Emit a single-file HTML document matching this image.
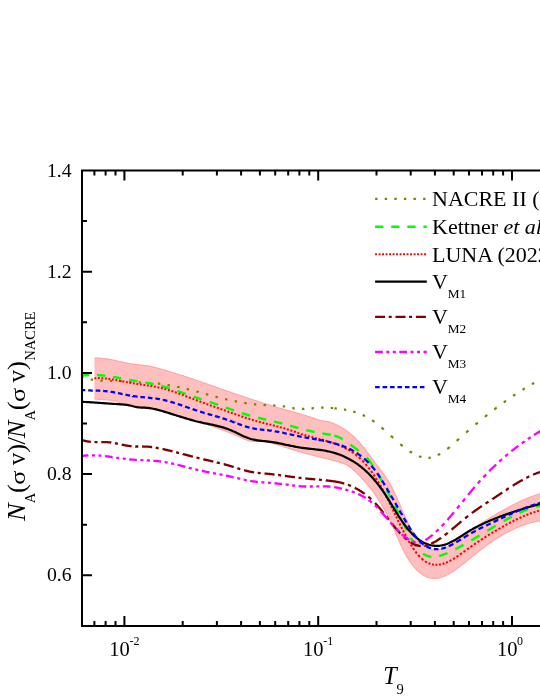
<!DOCTYPE html>
<html><head><meta charset="utf-8"><title>chart</title>
<style>html,body{margin:0;padding:0;background:#fff;}body{width:540px;height:699px;overflow:hidden;}svg{display:block;will-change:transform;}text{font-family:"Liberation Serif",serif;fill:#000;}</style></head><body>
<svg width="540" height="699" viewBox="0 0 540 699">
<rect x="0" y="0" width="540" height="699" fill="#fff"/>
<path d="M94.4,358.3 L95.4,358.2 L96.4,358.2 L97.4,358.2 L98.4,358.2 L99.4,358.2 L100.4,358.3 L101.4,358.3 L102.4,358.4 L103.4,358.5 L104.4,358.6 L105.4,358.8 L106.4,358.9 L107.4,359.1 L108.4,359.2 L109.4,359.4 L110.4,359.6 L111.4,359.8 L112.4,360.0 L113.4,360.2 L114.4,360.4 L115.4,360.6 L116.4,360.8 L117.4,361.1 L118.4,361.3 L119.4,361.5 L120.4,361.7 L121.4,361.9 L122.4,362.2 L123.4,362.4 L124.4,362.6 L125.4,362.8 L126.4,363.0 L127.4,363.2 L128.4,363.4 L129.4,363.5 L130.4,363.7 L131.4,363.9 L132.4,364.0 L133.4,364.1 L134.4,364.3 L135.4,364.4 L136.4,364.5 L137.4,364.6 L138.4,364.7 L139.4,364.9 L140.4,365.0 L141.4,365.1 L142.4,365.2 L143.4,365.3 L144.4,365.5 L145.4,365.6 L146.4,365.7 L147.4,365.9 L148.4,366.1 L149.4,366.3 L150.4,366.4 L151.4,366.6 L152.4,366.9 L153.4,367.1 L154.4,367.3 L155.4,367.6 L156.4,367.8 L157.4,368.1 L158.4,368.4 L159.4,368.7 L160.4,368.9 L161.4,369.2 L162.4,369.5 L163.4,369.8 L164.4,370.1 L165.4,370.4 L166.4,370.7 L167.4,370.9 L168.4,371.2 L169.4,371.5 L170.4,371.8 L171.4,372.2 L172.4,372.5 L173.4,372.8 L174.4,373.1 L175.4,373.4 L176.4,373.7 L177.4,374.0 L178.4,374.3 L179.4,374.7 L180.4,375.0 L181.4,375.3 L182.4,375.6 L183.4,375.9 L184.4,376.3 L185.4,376.6 L186.4,376.9 L187.4,377.3 L188.4,377.6 L189.4,377.9 L190.4,378.3 L191.4,378.6 L192.4,378.9 L193.4,379.3 L194.4,379.6 L195.4,380.0 L196.4,380.3 L197.4,380.6 L198.4,381.0 L199.4,381.3 L200.4,381.7 L201.4,382.0 L202.4,382.4 L203.4,382.7 L204.4,383.1 L205.4,383.4 L206.4,383.8 L207.4,384.1 L208.4,384.5 L209.4,384.8 L210.4,385.2 L211.4,385.5 L212.4,385.9 L213.4,386.2 L214.4,386.6 L215.4,386.9 L216.4,387.3 L217.4,387.6 L218.4,388.0 L219.4,388.3 L220.4,388.7 L221.4,389.0 L222.4,389.4 L223.4,389.7 L224.4,390.1 L225.4,390.4 L226.4,390.8 L227.4,391.1 L228.4,391.5 L229.4,391.8 L230.4,392.2 L231.4,392.5 L232.4,392.9 L233.4,393.2 L234.4,393.6 L235.4,393.9 L236.4,394.2 L237.4,394.6 L238.4,394.9 L239.4,395.3 L240.4,395.6 L241.4,395.9 L242.4,396.3 L243.4,396.6 L244.4,397.0 L245.4,397.3 L246.4,397.6 L247.4,398.0 L248.4,398.3 L249.4,398.6 L250.4,399.0 L251.4,399.3 L252.4,399.6 L253.4,399.9 L254.4,400.3 L255.4,400.6 L256.4,400.9 L257.4,401.2 L258.4,401.6 L259.4,401.9 L260.4,402.2 L261.4,402.5 L262.4,402.8 L263.4,403.2 L264.4,403.5 L265.4,403.8 L266.4,404.1 L267.4,404.4 L268.4,404.7 L269.4,405.0 L270.4,405.3 L271.4,405.6 L272.4,406.0 L273.4,406.3 L274.4,406.6 L275.4,406.9 L276.4,407.2 L277.4,407.5 L278.4,407.8 L279.4,408.0 L280.4,408.3 L281.4,408.6 L282.4,408.9 L283.4,409.2 L284.4,409.5 L285.4,409.8 L286.4,410.1 L287.4,410.4 L288.4,410.6 L289.4,410.9 L290.4,411.2 L291.4,411.5 L292.4,411.8 L293.4,412.1 L294.4,412.3 L295.4,412.6 L296.4,412.9 L297.4,413.2 L298.4,413.5 L299.4,413.8 L300.4,414.1 L301.4,414.4 L302.4,414.7 L303.4,415.0 L304.4,415.3 L305.4,415.6 L306.4,415.9 L307.4,416.2 L308.4,416.5 L309.4,416.8 L310.4,417.1 L311.4,417.5 L312.4,417.8 L313.4,418.1 L314.4,418.5 L315.4,418.8 L316.4,419.2 L317.4,419.5 L318.4,419.8 L319.4,420.1 L320.4,420.3 L321.4,420.6 L322.4,420.8 L323.4,421.0 L324.4,421.1 L325.4,421.3 L326.4,421.5 L327.4,421.7 L328.4,421.9 L329.4,422.1 L330.4,422.4 L331.4,422.7 L332.4,423.0 L333.4,423.4 L334.4,423.8 L335.4,424.3 L336.4,424.7 L337.4,425.2 L338.4,425.8 L339.4,426.3 L340.4,426.9 L341.4,427.5 L342.4,428.1 L343.4,428.7 L344.4,429.3 L345.4,430.0 L346.4,430.7 L347.4,431.4 L348.4,432.2 L349.4,432.9 L350.4,433.8 L351.4,434.6 L352.4,435.5 L353.4,436.4 L354.4,437.3 L355.4,438.3 L356.4,439.3 L357.4,440.3 L358.4,441.4 L359.4,442.5 L360.4,443.6 L361.4,444.8 L362.4,445.9 L363.4,447.2 L364.4,448.4 L365.4,449.7 L366.4,451.0 L367.4,452.3 L368.4,453.6 L369.4,455.0 L370.4,456.3 L371.4,457.7 L372.4,459.1 L373.4,460.4 L374.4,461.8 L375.4,463.2 L376.4,464.5 L377.4,465.9 L378.4,467.2 L379.4,468.6 L380.4,469.9 L381.4,471.2 L382.4,472.5 L383.4,473.9 L384.4,475.2 L385.4,476.6 L386.4,478.0 L387.4,479.5 L388.4,481.1 L389.4,482.7 L390.4,484.5 L391.4,486.4 L392.4,488.3 L393.4,490.4 L394.4,492.5 L395.4,494.7 L396.4,496.9 L397.4,499.2 L398.4,501.5 L399.4,503.8 L400.4,506.1 L401.4,508.4 L402.4,510.7 L403.4,513.0 L404.4,515.2 L405.4,517.4 L406.4,519.6 L407.4,521.6 L408.4,523.7 L409.4,525.6 L410.4,527.5 L411.4,529.3 L412.4,531.1 L413.4,532.8 L414.4,534.4 L415.4,535.9 L416.4,537.4 L417.4,538.8 L418.4,540.1 L419.4,541.2 L420.4,542.4 L421.4,543.4 L422.4,544.3 L423.4,545.2 L424.4,546.0 L425.4,546.7 L426.4,547.3 L427.4,547.9 L428.4,548.4 L429.4,548.8 L430.4,549.2 L431.4,549.5 L432.4,549.7 L433.4,549.8 L434.4,549.9 L435.4,550.0 L436.4,550.0 L437.4,549.9 L438.4,549.8 L439.4,549.6 L440.4,549.4 L441.4,549.2 L442.4,548.8 L443.4,548.5 L444.4,548.1 L445.4,547.7 L446.4,547.2 L447.4,546.7 L448.4,546.2 L449.4,545.6 L450.4,545.0 L451.4,544.4 L452.4,543.8 L453.4,543.1 L454.4,542.4 L455.4,541.7 L456.4,541.0 L457.4,540.3 L458.4,539.6 L459.4,538.8 L460.4,538.1 L461.4,537.3 L462.4,536.5 L463.4,535.8 L464.4,535.0 L465.4,534.3 L466.4,533.5 L467.4,532.8 L468.4,532.0 L469.4,531.3 L470.4,530.6 L471.4,529.9 L472.4,529.2 L473.4,528.5 L474.4,527.8 L475.4,527.1 L476.4,526.5 L477.4,525.8 L478.4,525.1 L479.4,524.5 L480.4,523.9 L481.4,523.2 L482.4,522.6 L483.4,522.0 L484.4,521.3 L485.4,520.7 L486.4,520.1 L487.4,519.5 L488.4,518.9 L489.4,518.3 L490.4,517.7 L491.4,517.1 L492.4,516.5 L493.4,515.9 L494.4,515.3 L495.4,514.7 L496.4,514.1 L497.4,513.5 L498.4,512.9 L499.4,512.4 L500.4,511.8 L501.4,511.2 L502.4,510.7 L503.4,510.1 L504.4,509.5 L505.4,509.0 L506.4,508.4 L507.4,507.9 L508.4,507.3 L509.4,506.8 L510.4,506.3 L511.4,505.7 L512.4,505.2 L513.4,504.7 L514.4,504.2 L515.4,503.7 L516.4,503.2 L517.4,502.7 L518.4,502.2 L519.4,501.7 L520.4,501.3 L521.4,500.8 L522.4,500.3 L523.4,499.9 L524.4,499.5 L525.4,499.0 L526.4,498.6 L527.4,498.2 L528.4,497.8 L529.4,497.4 L530.4,497.0 L531.4,496.6 L532.4,496.2 L533.4,495.9 L534.4,495.5 L535.4,495.2 L536.4,494.8 L537.4,494.5 L538.4,494.2 L539.4,493.9 L540.4,493.6 L541.0,493.5 L541.0,520.7 L540.4,520.8 L539.4,521.0 L538.4,521.1 L537.4,521.3 L536.4,521.5 L535.4,521.7 L534.4,521.9 L533.4,522.1 L532.4,522.4 L531.4,522.6 L530.4,522.9 L529.4,523.2 L528.4,523.5 L527.4,523.8 L526.4,524.1 L525.4,524.4 L524.4,524.7 L523.4,525.1 L522.4,525.5 L521.4,525.8 L520.4,526.2 L519.4,526.6 L518.4,527.0 L517.4,527.4 L516.4,527.9 L515.4,528.3 L514.4,528.7 L513.4,529.2 L512.4,529.7 L511.4,530.2 L510.4,530.7 L509.4,531.2 L508.4,531.7 L507.4,532.2 L506.4,532.7 L505.4,533.3 L504.4,533.8 L503.4,534.4 L502.4,535.0 L501.4,535.6 L500.4,536.2 L499.4,536.8 L498.4,537.4 L497.4,538.0 L496.4,538.6 L495.4,539.3 L494.4,539.9 L493.4,540.6 L492.4,541.3 L491.4,542.0 L490.4,542.6 L489.4,543.3 L488.4,544.1 L487.4,544.8 L486.4,545.5 L485.4,546.2 L484.4,547.0 L483.4,547.7 L482.4,548.5 L481.4,549.3 L480.4,550.0 L479.4,550.8 L478.4,551.6 L477.4,552.4 L476.4,553.2 L475.4,554.0 L474.4,554.8 L473.4,555.7 L472.4,556.5 L471.4,557.3 L470.4,558.1 L469.4,558.9 L468.4,559.8 L467.4,560.6 L466.4,561.4 L465.4,562.2 L464.4,563.0 L463.4,563.8 L462.4,564.6 L461.4,565.3 L460.4,566.1 L459.4,566.9 L458.4,567.6 L457.4,568.3 L456.4,569.1 L455.4,569.8 L454.4,570.5 L453.4,571.1 L452.4,571.8 L451.4,572.4 L450.4,573.0 L449.4,573.6 L448.4,574.2 L447.4,574.7 L446.4,575.2 L445.4,575.7 L444.4,576.2 L443.4,576.6 L442.4,576.9 L441.4,577.3 L440.4,577.6 L439.4,577.8 L438.4,578.1 L437.4,578.2 L436.4,578.4 L435.4,578.4 L434.4,578.5 L433.4,578.4 L432.4,578.4 L431.4,578.2 L430.4,578.0 L429.4,577.8 L428.4,577.5 L427.4,577.2 L426.4,576.7 L425.4,576.3 L424.4,575.8 L423.4,575.2 L422.4,574.5 L421.4,573.8 L420.4,573.1 L419.4,572.3 L418.4,571.4 L417.4,570.5 L416.4,569.5 L415.4,568.4 L414.4,567.3 L413.4,566.1 L412.4,564.8 L411.4,563.5 L410.4,562.2 L409.4,560.7 L408.4,559.2 L407.4,557.6 L406.4,555.9 L405.4,554.1 L404.4,552.2 L403.4,550.3 L402.4,548.2 L401.4,546.1 L400.4,543.9 L399.4,541.6 L398.4,539.3 L397.4,537.0 L396.4,534.7 L395.4,532.3 L394.4,530.0 L393.4,527.7 L392.4,525.5 L391.4,523.3 L390.4,521.2 L389.4,519.1 L388.4,517.0 L387.4,515.1 L386.4,513.1 L385.4,511.3 L384.4,509.4 L383.4,507.6 L382.4,505.9 L381.4,504.2 L380.4,502.5 L379.4,500.9 L378.4,499.4 L377.4,497.8 L376.4,496.3 L375.4,494.9 L374.4,493.5 L373.4,492.1 L372.4,490.7 L371.4,489.4 L370.4,488.1 L369.4,486.9 L368.4,485.7 L367.4,484.5 L366.4,483.3 L365.4,482.1 L364.4,481.0 L363.4,479.9 L362.4,478.8 L361.4,477.7 L360.4,476.7 L359.4,475.6 L358.4,474.6 L357.4,473.6 L356.4,472.6 L355.4,471.6 L354.4,470.7 L353.4,469.8 L352.4,468.9 L351.4,468.1 L350.4,467.3 L349.4,466.6 L348.4,465.9 L347.4,465.3 L346.4,464.8 L345.4,464.3 L344.4,463.8 L343.4,463.4 L342.4,463.1 L341.4,462.7 L340.4,462.4 L339.4,462.1 L338.4,461.8 L337.4,461.5 L336.4,461.2 L335.4,461.0 L334.4,460.7 L333.4,460.4 L332.4,460.1 L331.4,459.9 L330.4,459.6 L329.4,459.3 L328.4,459.1 L327.4,458.8 L326.4,458.6 L325.4,458.3 L324.4,458.1 L323.4,457.8 L322.4,457.6 L321.4,457.3 L320.4,457.1 L319.4,456.8 L318.4,456.6 L317.4,456.3 L316.4,456.1 L315.4,455.8 L314.4,455.6 L313.4,455.3 L312.4,455.1 L311.4,454.9 L310.4,454.6 L309.4,454.3 L308.4,454.1 L307.4,453.8 L306.4,453.6 L305.4,453.3 L304.4,453.1 L303.4,452.8 L302.4,452.5 L301.4,452.2 L300.4,452.0 L299.4,451.7 L298.4,451.4 L297.4,451.1 L296.4,450.8 L295.4,450.5 L294.4,450.2 L293.4,449.9 L292.4,449.6 L291.4,449.3 L290.4,449.0 L289.4,448.6 L288.4,448.3 L287.4,448.0 L286.4,447.6 L285.4,447.3 L284.4,447.0 L283.4,446.6 L282.4,446.3 L281.4,446.0 L280.4,445.6 L279.4,445.3 L278.4,445.0 L277.4,444.7 L276.4,444.4 L275.4,444.1 L274.4,443.8 L273.4,443.5 L272.4,443.2 L271.4,443.0 L270.4,442.7 L269.4,442.5 L268.4,442.2 L267.4,442.0 L266.4,441.9 L265.4,441.7 L264.4,441.6 L263.4,441.5 L262.4,441.4 L261.4,441.3 L260.4,441.3 L259.4,441.3 L258.4,441.3 L257.4,441.4 L256.4,441.4 L255.4,441.4 L254.4,441.4 L253.4,441.4 L252.4,441.3 L251.4,441.2 L250.4,441.0 L249.4,440.8 L248.4,440.6 L247.4,440.3 L246.4,439.9 L245.4,439.5 L244.4,439.1 L243.4,438.6 L242.4,438.2 L241.4,437.7 L240.4,437.3 L239.4,436.8 L238.4,436.4 L237.4,435.9 L236.4,435.5 L235.4,435.1 L234.4,434.6 L233.4,434.2 L232.4,433.8 L231.4,433.4 L230.4,433.0 L229.4,432.6 L228.4,432.2 L227.4,431.8 L226.4,431.4 L225.4,431.0 L224.4,430.7 L223.4,430.3 L222.4,429.9 L221.4,429.5 L220.4,429.1 L219.4,428.8 L218.4,428.4 L217.4,428.0 L216.4,427.7 L215.4,427.3 L214.4,426.9 L213.4,426.6 L212.4,426.2 L211.4,425.8 L210.4,425.5 L209.4,425.1 L208.4,424.8 L207.4,424.4 L206.4,424.1 L205.4,423.8 L204.4,423.4 L203.4,423.1 L202.4,422.7 L201.4,422.4 L200.4,422.1 L199.4,421.7 L198.4,421.4 L197.4,421.1 L196.4,420.8 L195.4,420.4 L194.4,420.1 L193.4,419.8 L192.4,419.5 L191.4,419.1 L190.4,418.8 L189.4,418.5 L188.4,418.2 L187.4,417.9 L186.4,417.6 L185.4,417.3 L184.4,417.0 L183.4,416.7 L182.4,416.4 L181.4,416.1 L180.4,415.8 L179.4,415.5 L178.4,415.2 L177.4,414.9 L176.4,414.6 L175.4,414.3 L174.4,414.0 L173.4,413.7 L172.4,413.4 L171.4,413.1 L170.4,412.9 L169.4,412.6 L168.4,412.3 L167.4,412.0 L166.4,411.7 L165.4,411.5 L164.4,411.2 L163.4,410.9 L162.4,410.6 L161.4,410.3 L160.4,410.1 L159.4,409.8 L158.4,409.5 L157.4,409.3 L156.4,409.0 L155.4,408.8 L154.4,408.5 L153.4,408.3 L152.4,408.1 L151.4,407.8 L150.4,407.7 L149.4,407.5 L148.4,407.3 L147.4,407.2 L146.4,407.0 L145.4,406.9 L144.4,406.8 L143.4,406.7 L142.4,406.6 L141.4,406.5 L140.4,406.4 L139.4,406.3 L138.4,406.2 L137.4,406.1 L136.4,406.0 L135.4,405.9 L134.4,405.8 L133.4,405.7 L132.4,405.5 L131.4,405.4 L130.4,405.2 L129.4,405.0 L128.4,404.8 L127.4,404.5 L126.4,404.3 L125.4,404.0 L124.4,403.7 L123.4,403.5 L122.4,403.2 L121.4,402.9 L120.4,402.6 L119.4,402.3 L118.4,402.0 L117.4,401.8 L116.4,401.5 L115.4,401.2 L114.4,401.0 L113.4,400.8 L112.4,400.6 L111.4,400.4 L110.4,400.2 L109.4,400.1 L108.4,399.9 L107.4,399.8 L106.4,399.8 L105.4,399.7 L104.4,399.6 L103.4,399.6 L102.4,399.5 L101.4,399.5 L100.4,399.4 L99.4,399.4 L98.4,399.3 L97.4,399.2 L96.4,399.1 L95.4,399.0 L94.4,398.9 Z" fill="#ffbfbf" stroke="none"/>
<path d="M94.4,358.3 L95.4,358.2 L96.4,358.2 L97.4,358.2 L98.4,358.2 L99.4,358.2 L100.4,358.3 L101.4,358.3 L102.4,358.4 L103.4,358.5 L104.4,358.6 L105.4,358.8 L106.4,358.9 L107.4,359.1 L108.4,359.2 L109.4,359.4 L110.4,359.6 L111.4,359.8 L112.4,360.0 L113.4,360.2 L114.4,360.4 L115.4,360.6 L116.4,360.8 L117.4,361.1 L118.4,361.3 L119.4,361.5 L120.4,361.7 L121.4,361.9 L122.4,362.2 L123.4,362.4 L124.4,362.6 L125.4,362.8 L126.4,363.0 L127.4,363.2 L128.4,363.4 L129.4,363.5 L130.4,363.7 L131.4,363.9 L132.4,364.0 L133.4,364.1 L134.4,364.3 L135.4,364.4 L136.4,364.5 L137.4,364.6 L138.4,364.7 L139.4,364.9 L140.4,365.0 L141.4,365.1 L142.4,365.2 L143.4,365.3 L144.4,365.5 L145.4,365.6 L146.4,365.7 L147.4,365.9 L148.4,366.1 L149.4,366.3 L150.4,366.4 L151.4,366.6 L152.4,366.9 L153.4,367.1 L154.4,367.3 L155.4,367.6 L156.4,367.8 L157.4,368.1 L158.4,368.4 L159.4,368.7 L160.4,368.9 L161.4,369.2 L162.4,369.5 L163.4,369.8 L164.4,370.1 L165.4,370.4 L166.4,370.7 L167.4,370.9 L168.4,371.2 L169.4,371.5 L170.4,371.8 L171.4,372.2 L172.4,372.5 L173.4,372.8 L174.4,373.1 L175.4,373.4 L176.4,373.7 L177.4,374.0 L178.4,374.3 L179.4,374.7 L180.4,375.0 L181.4,375.3 L182.4,375.6 L183.4,375.9 L184.4,376.3 L185.4,376.6 L186.4,376.9 L187.4,377.3 L188.4,377.6 L189.4,377.9 L190.4,378.3 L191.4,378.6 L192.4,378.9 L193.4,379.3 L194.4,379.6 L195.4,380.0 L196.4,380.3 L197.4,380.6 L198.4,381.0 L199.4,381.3 L200.4,381.7 L201.4,382.0 L202.4,382.4 L203.4,382.7 L204.4,383.1 L205.4,383.4 L206.4,383.8 L207.4,384.1 L208.4,384.5 L209.4,384.8 L210.4,385.2 L211.4,385.5 L212.4,385.9 L213.4,386.2 L214.4,386.6 L215.4,386.9 L216.4,387.3 L217.4,387.6 L218.4,388.0 L219.4,388.3 L220.4,388.7 L221.4,389.0 L222.4,389.4 L223.4,389.7 L224.4,390.1 L225.4,390.4 L226.4,390.8 L227.4,391.1 L228.4,391.5 L229.4,391.8 L230.4,392.2 L231.4,392.5 L232.4,392.9 L233.4,393.2 L234.4,393.6 L235.4,393.9 L236.4,394.2 L237.4,394.6 L238.4,394.9 L239.4,395.3 L240.4,395.6 L241.4,395.9 L242.4,396.3 L243.4,396.6 L244.4,397.0 L245.4,397.3 L246.4,397.6 L247.4,398.0 L248.4,398.3 L249.4,398.6 L250.4,399.0 L251.4,399.3 L252.4,399.6 L253.4,399.9 L254.4,400.3 L255.4,400.6 L256.4,400.9 L257.4,401.2 L258.4,401.6 L259.4,401.9 L260.4,402.2 L261.4,402.5 L262.4,402.8 L263.4,403.2 L264.4,403.5 L265.4,403.8 L266.4,404.1 L267.4,404.4 L268.4,404.7 L269.4,405.0 L270.4,405.3 L271.4,405.6 L272.4,406.0 L273.4,406.3 L274.4,406.6 L275.4,406.9 L276.4,407.2 L277.4,407.5 L278.4,407.8 L279.4,408.0 L280.4,408.3 L281.4,408.6 L282.4,408.9 L283.4,409.2 L284.4,409.5 L285.4,409.8 L286.4,410.1 L287.4,410.4 L288.4,410.6 L289.4,410.9 L290.4,411.2 L291.4,411.5 L292.4,411.8 L293.4,412.1 L294.4,412.3 L295.4,412.6 L296.4,412.9 L297.4,413.2 L298.4,413.5 L299.4,413.8 L300.4,414.1 L301.4,414.4 L302.4,414.7 L303.4,415.0 L304.4,415.3 L305.4,415.6 L306.4,415.9 L307.4,416.2 L308.4,416.5 L309.4,416.8 L310.4,417.1 L311.4,417.5 L312.4,417.8 L313.4,418.1 L314.4,418.5 L315.4,418.8 L316.4,419.2 L317.4,419.5 L318.4,419.8 L319.4,420.1 L320.4,420.3 L321.4,420.6 L322.4,420.8 L323.4,421.0 L324.4,421.1 L325.4,421.3 L326.4,421.5 L327.4,421.7 L328.4,421.9 L329.4,422.1 L330.4,422.4 L331.4,422.7 L332.4,423.0 L333.4,423.4 L334.4,423.8 L335.4,424.3 L336.4,424.7 L337.4,425.2 L338.4,425.8 L339.4,426.3 L340.4,426.9 L341.4,427.5 L342.4,428.1 L343.4,428.7 L344.4,429.3 L345.4,430.0 L346.4,430.7 L347.4,431.4 L348.4,432.2 L349.4,432.9 L350.4,433.8 L351.4,434.6 L352.4,435.5 L353.4,436.4 L354.4,437.3 L355.4,438.3 L356.4,439.3 L357.4,440.3 L358.4,441.4 L359.4,442.5 L360.4,443.6 L361.4,444.8 L362.4,445.9 L363.4,447.2 L364.4,448.4 L365.4,449.7 L366.4,451.0 L367.4,452.3 L368.4,453.6 L369.4,455.0 L370.4,456.3 L371.4,457.7 L372.4,459.1 L373.4,460.4 L374.4,461.8 L375.4,463.2 L376.4,464.5 L377.4,465.9 L378.4,467.2 L379.4,468.6 L380.4,469.9 L381.4,471.2 L382.4,472.5 L383.4,473.9 L384.4,475.2 L385.4,476.6 L386.4,478.0 L387.4,479.5 L388.4,481.1 L389.4,482.7 L390.4,484.5 L391.4,486.4 L392.4,488.3 L393.4,490.4 L394.4,492.5 L395.4,494.7 L396.4,496.9 L397.4,499.2 L398.4,501.5 L399.4,503.8 L400.4,506.1 L401.4,508.4 L402.4,510.7 L403.4,513.0 L404.4,515.2 L405.4,517.4 L406.4,519.6 L407.4,521.6 L408.4,523.7 L409.4,525.6 L410.4,527.5 L411.4,529.3 L412.4,531.1 L413.4,532.8 L414.4,534.4 L415.4,535.9 L416.4,537.4 L417.4,538.8 L418.4,540.1 L419.4,541.2 L420.4,542.4 L421.4,543.4 L422.4,544.3 L423.4,545.2 L424.4,546.0 L425.4,546.7 L426.4,547.3 L427.4,547.9 L428.4,548.4 L429.4,548.8 L430.4,549.2 L431.4,549.5 L432.4,549.7 L433.4,549.8 L434.4,549.9 L435.4,550.0 L436.4,550.0 L437.4,549.9 L438.4,549.8 L439.4,549.6 L440.4,549.4 L441.4,549.2 L442.4,548.8 L443.4,548.5 L444.4,548.1 L445.4,547.7 L446.4,547.2 L447.4,546.7 L448.4,546.2 L449.4,545.6 L450.4,545.0 L451.4,544.4 L452.4,543.8 L453.4,543.1 L454.4,542.4 L455.4,541.7 L456.4,541.0 L457.4,540.3 L458.4,539.6 L459.4,538.8 L460.4,538.1 L461.4,537.3 L462.4,536.5 L463.4,535.8 L464.4,535.0 L465.4,534.3 L466.4,533.5 L467.4,532.8 L468.4,532.0 L469.4,531.3 L470.4,530.6 L471.4,529.9 L472.4,529.2 L473.4,528.5 L474.4,527.8 L475.4,527.1 L476.4,526.5 L477.4,525.8 L478.4,525.1 L479.4,524.5 L480.4,523.9 L481.4,523.2 L482.4,522.6 L483.4,522.0 L484.4,521.3 L485.4,520.7 L486.4,520.1 L487.4,519.5 L488.4,518.9 L489.4,518.3 L490.4,517.7 L491.4,517.1 L492.4,516.5 L493.4,515.9 L494.4,515.3 L495.4,514.7 L496.4,514.1 L497.4,513.5 L498.4,512.9 L499.4,512.4 L500.4,511.8 L501.4,511.2 L502.4,510.7 L503.4,510.1 L504.4,509.5 L505.4,509.0 L506.4,508.4 L507.4,507.9 L508.4,507.3 L509.4,506.8 L510.4,506.3 L511.4,505.7 L512.4,505.2 L513.4,504.7 L514.4,504.2 L515.4,503.7 L516.4,503.2 L517.4,502.7 L518.4,502.2 L519.4,501.7 L520.4,501.3 L521.4,500.8 L522.4,500.3 L523.4,499.9 L524.4,499.5 L525.4,499.0 L526.4,498.6 L527.4,498.2 L528.4,497.8 L529.4,497.4 L530.4,497.0 L531.4,496.6 L532.4,496.2 L533.4,495.9 L534.4,495.5 L535.4,495.2 L536.4,494.8 L537.4,494.5 L538.4,494.2 L539.4,493.9 L540.4,493.6 L541.0,493.5" fill="none" stroke="#ffa6a6" stroke-width="1.2"/>
<path d="M94.4,398.9 L95.4,399.0 L96.4,399.1 L97.4,399.2 L98.4,399.3 L99.4,399.4 L100.4,399.4 L101.4,399.5 L102.4,399.5 L103.4,399.6 L104.4,399.6 L105.4,399.7 L106.4,399.8 L107.4,399.8 L108.4,399.9 L109.4,400.1 L110.4,400.2 L111.4,400.4 L112.4,400.6 L113.4,400.8 L114.4,401.0 L115.4,401.2 L116.4,401.5 L117.4,401.8 L118.4,402.0 L119.4,402.3 L120.4,402.6 L121.4,402.9 L122.4,403.2 L123.4,403.5 L124.4,403.7 L125.4,404.0 L126.4,404.3 L127.4,404.5 L128.4,404.8 L129.4,405.0 L130.4,405.2 L131.4,405.4 L132.4,405.5 L133.4,405.7 L134.4,405.8 L135.4,405.9 L136.4,406.0 L137.4,406.1 L138.4,406.2 L139.4,406.3 L140.4,406.4 L141.4,406.5 L142.4,406.6 L143.4,406.7 L144.4,406.8 L145.4,406.9 L146.4,407.0 L147.4,407.2 L148.4,407.3 L149.4,407.5 L150.4,407.7 L151.4,407.8 L152.4,408.1 L153.4,408.3 L154.4,408.5 L155.4,408.8 L156.4,409.0 L157.4,409.3 L158.4,409.5 L159.4,409.8 L160.4,410.1 L161.4,410.3 L162.4,410.6 L163.4,410.9 L164.4,411.2 L165.4,411.5 L166.4,411.7 L167.4,412.0 L168.4,412.3 L169.4,412.6 L170.4,412.9 L171.4,413.1 L172.4,413.4 L173.4,413.7 L174.4,414.0 L175.4,414.3 L176.4,414.6 L177.4,414.9 L178.4,415.2 L179.4,415.5 L180.4,415.8 L181.4,416.1 L182.4,416.4 L183.4,416.7 L184.4,417.0 L185.4,417.3 L186.4,417.6 L187.4,417.9 L188.4,418.2 L189.4,418.5 L190.4,418.8 L191.4,419.1 L192.4,419.5 L193.4,419.8 L194.4,420.1 L195.4,420.4 L196.4,420.8 L197.4,421.1 L198.4,421.4 L199.4,421.7 L200.4,422.1 L201.4,422.4 L202.4,422.7 L203.4,423.1 L204.4,423.4 L205.4,423.8 L206.4,424.1 L207.4,424.4 L208.4,424.8 L209.4,425.1 L210.4,425.5 L211.4,425.8 L212.4,426.2 L213.4,426.6 L214.4,426.9 L215.4,427.3 L216.4,427.7 L217.4,428.0 L218.4,428.4 L219.4,428.8 L220.4,429.1 L221.4,429.5 L222.4,429.9 L223.4,430.3 L224.4,430.7 L225.4,431.0 L226.4,431.4 L227.4,431.8 L228.4,432.2 L229.4,432.6 L230.4,433.0 L231.4,433.4 L232.4,433.8 L233.4,434.2 L234.4,434.6 L235.4,435.1 L236.4,435.5 L237.4,435.9 L238.4,436.4 L239.4,436.8 L240.4,437.3 L241.4,437.7 L242.4,438.2 L243.4,438.6 L244.4,439.1 L245.4,439.5 L246.4,439.9 L247.4,440.3 L248.4,440.6 L249.4,440.8 L250.4,441.0 L251.4,441.2 L252.4,441.3 L253.4,441.4 L254.4,441.4 L255.4,441.4 L256.4,441.4 L257.4,441.4 L258.4,441.3 L259.4,441.3 L260.4,441.3 L261.4,441.3 L262.4,441.4 L263.4,441.5 L264.4,441.6 L265.4,441.7 L266.4,441.9 L267.4,442.0 L268.4,442.2 L269.4,442.5 L270.4,442.7 L271.4,443.0 L272.4,443.2 L273.4,443.5 L274.4,443.8 L275.4,444.1 L276.4,444.4 L277.4,444.7 L278.4,445.0 L279.4,445.3 L280.4,445.6 L281.4,446.0 L282.4,446.3 L283.4,446.6 L284.4,447.0 L285.4,447.3 L286.4,447.6 L287.4,448.0 L288.4,448.3 L289.4,448.6 L290.4,449.0 L291.4,449.3 L292.4,449.6 L293.4,449.9 L294.4,450.2 L295.4,450.5 L296.4,450.8 L297.4,451.1 L298.4,451.4 L299.4,451.7 L300.4,452.0 L301.4,452.2 L302.4,452.5 L303.4,452.8 L304.4,453.1 L305.4,453.3 L306.4,453.6 L307.4,453.8 L308.4,454.1 L309.4,454.3 L310.4,454.6 L311.4,454.9 L312.4,455.1 L313.4,455.3 L314.4,455.6 L315.4,455.8 L316.4,456.1 L317.4,456.3 L318.4,456.6 L319.4,456.8 L320.4,457.1 L321.4,457.3 L322.4,457.6 L323.4,457.8 L324.4,458.1 L325.4,458.3 L326.4,458.6 L327.4,458.8 L328.4,459.1 L329.4,459.3 L330.4,459.6 L331.4,459.9 L332.4,460.1 L333.4,460.4 L334.4,460.7 L335.4,461.0 L336.4,461.2 L337.4,461.5 L338.4,461.8 L339.4,462.1 L340.4,462.4 L341.4,462.7 L342.4,463.1 L343.4,463.4 L344.4,463.8 L345.4,464.3 L346.4,464.8 L347.4,465.3 L348.4,465.9 L349.4,466.6 L350.4,467.3 L351.4,468.1 L352.4,468.9 L353.4,469.8 L354.4,470.7 L355.4,471.6 L356.4,472.6 L357.4,473.6 L358.4,474.6 L359.4,475.6 L360.4,476.7 L361.4,477.7 L362.4,478.8 L363.4,479.9 L364.4,481.0 L365.4,482.1 L366.4,483.3 L367.4,484.5 L368.4,485.7 L369.4,486.9 L370.4,488.1 L371.4,489.4 L372.4,490.7 L373.4,492.1 L374.4,493.5 L375.4,494.9 L376.4,496.3 L377.4,497.8 L378.4,499.4 L379.4,500.9 L380.4,502.5 L381.4,504.2 L382.4,505.9 L383.4,507.6 L384.4,509.4 L385.4,511.3 L386.4,513.1 L387.4,515.1 L388.4,517.0 L389.4,519.1 L390.4,521.2 L391.4,523.3 L392.4,525.5 L393.4,527.7 L394.4,530.0 L395.4,532.3 L396.4,534.7 L397.4,537.0 L398.4,539.3 L399.4,541.6 L400.4,543.9 L401.4,546.1 L402.4,548.2 L403.4,550.3 L404.4,552.2 L405.4,554.1 L406.4,555.9 L407.4,557.6 L408.4,559.2 L409.4,560.7 L410.4,562.2 L411.4,563.5 L412.4,564.8 L413.4,566.1 L414.4,567.3 L415.4,568.4 L416.4,569.5 L417.4,570.5 L418.4,571.4 L419.4,572.3 L420.4,573.1 L421.4,573.8 L422.4,574.5 L423.4,575.2 L424.4,575.8 L425.4,576.3 L426.4,576.7 L427.4,577.2 L428.4,577.5 L429.4,577.8 L430.4,578.0 L431.4,578.2 L432.4,578.4 L433.4,578.4 L434.4,578.5 L435.4,578.4 L436.4,578.4 L437.4,578.2 L438.4,578.1 L439.4,577.8 L440.4,577.6 L441.4,577.3 L442.4,576.9 L443.4,576.6 L444.4,576.2 L445.4,575.7 L446.4,575.2 L447.4,574.7 L448.4,574.2 L449.4,573.6 L450.4,573.0 L451.4,572.4 L452.4,571.8 L453.4,571.1 L454.4,570.5 L455.4,569.8 L456.4,569.1 L457.4,568.3 L458.4,567.6 L459.4,566.9 L460.4,566.1 L461.4,565.3 L462.4,564.6 L463.4,563.8 L464.4,563.0 L465.4,562.2 L466.4,561.4 L467.4,560.6 L468.4,559.8 L469.4,558.9 L470.4,558.1 L471.4,557.3 L472.4,556.5 L473.4,555.7 L474.4,554.8 L475.4,554.0 L476.4,553.2 L477.4,552.4 L478.4,551.6 L479.4,550.8 L480.4,550.0 L481.4,549.3 L482.4,548.5 L483.4,547.7 L484.4,547.0 L485.4,546.2 L486.4,545.5 L487.4,544.8 L488.4,544.1 L489.4,543.3 L490.4,542.6 L491.4,542.0 L492.4,541.3 L493.4,540.6 L494.4,539.9 L495.4,539.3 L496.4,538.6 L497.4,538.0 L498.4,537.4 L499.4,536.8 L500.4,536.2 L501.4,535.6 L502.4,535.0 L503.4,534.4 L504.4,533.8 L505.4,533.3 L506.4,532.7 L507.4,532.2 L508.4,531.7 L509.4,531.2 L510.4,530.7 L511.4,530.2 L512.4,529.7 L513.4,529.2 L514.4,528.7 L515.4,528.3 L516.4,527.9 L517.4,527.4 L518.4,527.0 L519.4,526.6 L520.4,526.2 L521.4,525.8 L522.4,525.5 L523.4,525.1 L524.4,524.7 L525.4,524.4 L526.4,524.1 L527.4,523.8 L528.4,523.5 L529.4,523.2 L530.4,522.9 L531.4,522.6 L532.4,522.4 L533.4,522.1 L534.4,521.9 L535.4,521.7 L536.4,521.5 L537.4,521.3 L538.4,521.1 L539.4,521.0 L540.4,520.8 L541.0,520.7" fill="none" stroke="#ffa6a6" stroke-width="1.2"/>
<path d="M82.0,376.8 L82.5,377.0 L83.0,377.2 L83.5,377.3 M90.7,379.3 L91.0,379.4 L91.5,379.5 L92.0,379.6 L92.5,379.7 L93.0,379.8 L93.1,379.8 M100.3,380.6 L100.5,380.6 L101.0,380.7 L101.5,380.7 L102.0,380.7 L102.5,380.8 L102.7,380.8 M109.9,381.0 L110.0,381.0 L110.5,381.0 L111.0,381.0 L111.5,381.0 L112.0,381.0 L112.3,381.0 M119.5,381.1 L120.0,381.1 L120.5,381.1 L121.0,381.1 L121.5,381.2 L121.9,381.2 M129.1,381.6 L129.5,381.6 L130.0,381.6 L130.5,381.7 L131.0,381.7 L131.5,381.7 M138.7,382.3 L139.0,382.3 L139.5,382.4 L140.0,382.4 L140.5,382.5 L141.0,382.5 L141.1,382.5 M148.3,383.0 L148.5,383.0 L149.0,383.0 L149.5,383.1 L150.0,383.1 L150.5,383.1 L150.7,383.1 M157.9,383.5 L158.0,383.5 L158.5,383.6 L159.0,383.6 L159.5,383.7 L160.0,383.8 L160.3,383.8 M167.5,385.0 L168.0,385.1 L168.5,385.2 L169.0,385.3 L169.5,385.4 L169.9,385.5 M177.1,386.8 L177.5,386.9 L178.0,387.0 L178.5,387.1 L179.0,387.2 L179.5,387.3 M186.7,388.9 L187.0,389.0 L187.5,389.1 L188.0,389.3 L188.5,389.4 L189.0,389.5 L189.1,389.5 M196.3,391.4 L196.5,391.5 L197.0,391.6 L197.5,391.8 L198.0,391.9 L198.5,392.0 L198.7,392.1 M205.9,394.1 L206.0,394.1 L206.5,394.3 L207.0,394.4 L207.5,394.5 L208.0,394.7 L208.3,394.8 M215.5,396.7 L215.5,396.7 L216.0,396.8 L216.5,396.9 L217.0,397.1 L217.5,397.2 L217.9,397.3 M225.1,399.0 L225.5,399.1 L226.0,399.3 L226.5,399.4 L227.0,399.5 L227.5,399.6 M234.7,401.2 L235.0,401.2 L235.5,401.3 L236.0,401.4 L236.5,401.5 L237.0,401.6 L237.1,401.6 M244.3,402.9 L244.5,402.9 L245.0,403.0 L245.5,403.1 L246.0,403.2 L246.5,403.3 L246.7,403.3 M253.9,404.2 L254.0,404.2 L254.5,404.3 L255.0,404.4 L255.5,404.4 L256.0,404.5 L256.3,404.5 M263.5,405.0 L263.5,405.0 L264.0,405.1 L264.5,405.1 L265.0,405.1 L265.5,405.1 L265.9,405.2 M273.1,405.4 L273.5,405.4 L274.0,405.5 L274.5,405.5 L275.0,405.5 L275.5,405.5 M282.7,406.2 L283.0,406.3 L283.5,406.4 L284.0,406.4 L284.5,406.5 L285.0,406.6 L285.1,406.6 M292.3,408.1 L292.5,408.1 L293.0,408.2 L293.5,408.3 L294.0,408.3 L294.5,408.4 L294.7,408.4 M301.9,408.8 L302.0,408.8 L302.5,408.8 L303.0,408.8 L303.5,408.8 L304.0,408.8 L304.3,408.7 M311.5,408.3 L311.5,408.3 L312.0,408.3 L312.5,408.3 L313.0,408.2 L313.5,408.2 L313.9,408.2 M321.1,407.7 L321.5,407.7 L322.0,407.7 L322.5,407.7 L323.0,407.7 L323.5,407.7 M330.7,407.9 L331.0,407.9 L331.5,408.0 L332.0,408.0 L332.5,408.0 L333.0,408.1 L333.1,408.1 M334.5,408.2 L335.0,408.3 L335.5,408.3 L336.0,408.4 L336.5,408.5 L336.8,408.5 M343.9,409.5 L344.0,409.5 L344.5,409.6 L345.0,409.7 L345.5,409.8 L346.0,409.9 L346.2,409.9 M353.3,411.5 L353.5,411.6 L354.0,411.7 L354.5,411.9 L355.0,412.0 L355.5,412.2 L355.6,412.2 M362.7,415.0 L363.0,415.1 L363.5,415.4 L364.0,415.6 L364.5,415.9 L365.0,416.1 L365.0,416.1 M372.1,420.3 L372.5,420.5 L373.0,420.9 L373.5,421.2 L374.0,421.6 L374.4,421.9 M381.5,427.5 L381.5,427.5 L382.0,427.9 L382.5,428.3 L383.0,428.7 L383.5,429.2 L383.8,429.5 M390.9,435.8 L391.0,435.9 L391.5,436.3 L392.0,436.8 L392.5,437.2 L393.0,437.7 L393.2,437.9 M400.3,444.1 L400.5,444.3 L401.0,444.7 L401.5,445.1 L402.0,445.6 L402.5,446.0 L402.6,446.1 M409.7,451.3 L410.0,451.6 L410.5,451.9 L411.0,452.2 L411.5,452.5 L412.0,452.8 L412.0,452.8 M419.1,456.3 L419.5,456.5 L420.0,456.6 L420.5,456.8 L421.0,456.9 L421.4,457.1 M428.5,457.9 L428.5,457.9 L429.0,457.9 L429.5,457.8 L430.0,457.7 L430.5,457.7 L430.8,457.6 M437.9,455.2 L438.0,455.1 L438.5,454.8 L439.0,454.6 L439.5,454.3 L440.0,454.0 L440.2,453.9 M447.3,448.9 L447.5,448.8 L448.0,448.4 L448.5,448.0 L449.0,447.6 L449.5,447.2 L449.6,447.0 M456.7,440.9 L457.0,440.6 L457.5,440.2 L458.0,439.7 L458.5,439.3 L459.0,438.8 L459.0,438.8 M466.1,432.6 L466.5,432.2 L467.0,431.8 L467.5,431.3 L468.0,430.9 L468.4,430.5 M475.5,424.5 L475.5,424.5 L476.0,424.1 L476.5,423.7 L477.0,423.3 L477.5,422.8 L477.8,422.6 M484.9,416.8 L485.0,416.7 L485.5,416.3 L486.0,415.9 L486.5,415.5 L487.0,415.1 L487.2,414.9 M494.3,409.4 L494.5,409.3 L495.0,408.9 L495.5,408.5 L496.0,408.1 L496.5,407.7 L496.6,407.7 M503.7,402.4 L504.0,402.2 L504.5,401.9 L505.0,401.5 L505.5,401.1 L506.0,400.8 L506.0,400.8 M513.1,395.9 L513.5,395.6 L514.0,395.3 L514.5,394.9 L515.0,394.6 L515.4,394.3 M522.5,389.8 L522.5,389.8 L523.0,389.5 L523.5,389.2 L524.0,388.9 L524.5,388.5 L524.8,388.4 M531.9,384.2 L532.0,384.1 L532.5,383.9 L533.0,383.6 L533.5,383.3 L534.0,383.0 L534.2,382.9" fill="none" stroke="#808000" stroke-width="2.2"/>
<path d="M82.0,375.7 L82.5,375.6 L83.0,375.5 L83.5,375.5 L84.0,375.4 L84.5,375.3 L85.0,375.3 L85.5,375.2 L86.0,375.2 L86.5,375.1 L87.0,375.1 L87.5,375.1 L88.0,375.0 L88.5,375.0 L89.0,375.0 L89.2,375.0 M97.0,375.0 L97.5,375.0 L98.0,375.1 L98.5,375.1 L99.0,375.1 L99.5,375.2 L100.0,375.2 L100.5,375.3 L101.0,375.3 L101.5,375.3 L102.0,375.4 L102.5,375.4 L103.0,375.5 L103.5,375.6 L104.0,375.6 L104.5,375.7 L105.0,375.7 L105.3,375.8 M113.1,376.9 L113.5,377.0 L114.0,377.1 L114.5,377.2 L115.0,377.3 L115.5,377.3 L116.0,377.4 L116.5,377.5 L117.0,377.6 L117.5,377.7 L118.0,377.8 L118.5,377.9 L119.0,378.0 L119.5,378.1 L120.0,378.2 L120.5,378.3 L121.0,378.4 L121.4,378.4 M129.2,379.9 L129.5,379.9 L130.0,380.0 L130.5,380.1 L131.0,380.2 L131.5,380.3 L132.0,380.4 L132.5,380.4 L133.0,380.5 L133.5,380.6 L134.0,380.7 L134.5,380.8 L135.0,380.9 L135.5,380.9 L136.0,381.0 L136.5,381.1 L137.0,381.2 L137.5,381.3 M145.3,382.6 L145.5,382.6 L146.0,382.7 L146.5,382.8 L147.0,382.9 L147.5,382.9 L148.0,383.0 L148.5,383.1 L149.0,383.2 L149.5,383.3 L150.0,383.4 L150.5,383.5 L151.0,383.6 L151.5,383.7 L152.0,383.8 L152.5,383.9 L153.0,384.0 L153.5,384.1 L153.6,384.1 M161.4,386.0 L161.5,386.0 L162.0,386.1 L162.5,386.3 L163.0,386.4 L163.5,386.5 L164.0,386.7 L164.5,386.8 L165.0,387.0 L165.5,387.1 L166.0,387.3 L166.5,387.4 L167.0,387.6 L167.5,387.7 L168.0,387.9 L168.5,388.0 L169.0,388.2 L169.5,388.3 L169.7,388.4 M177.5,391.0 L178.0,391.2 L178.5,391.4 L179.0,391.5 L179.5,391.7 L180.0,391.9 L180.5,392.1 L181.0,392.2 L181.5,392.4 L182.0,392.6 L182.5,392.8 L183.0,393.0 L183.5,393.1 L184.0,393.3 L184.5,393.5 L185.0,393.7 L185.5,393.8 L185.8,393.9 M193.6,396.6 L194.0,396.8 L194.5,397.0 L195.0,397.1 L195.5,397.3 L196.0,397.5 L196.5,397.6 L197.0,397.8 L197.5,398.0 L198.0,398.1 L198.5,398.3 L199.0,398.5 L199.5,398.6 L200.0,398.8 L200.5,399.0 L201.0,399.1 L201.5,399.3 L201.9,399.4 M209.7,402.0 L210.0,402.1 L210.5,402.3 L211.0,402.4 L211.5,402.6 L212.0,402.8 L212.5,402.9 L213.0,403.1 L213.5,403.3 L214.0,403.4 L214.5,403.6 L215.0,403.8 L215.5,403.9 L216.0,404.1 L216.5,404.3 L217.0,404.4 L217.5,404.6 L218.0,404.8 M225.8,407.5 L226.0,407.6 L226.5,407.7 L227.0,407.9 L227.5,408.1 L228.0,408.3 L228.5,408.5 L229.0,408.6 L229.5,408.8 L230.0,409.0 L230.5,409.2 L231.0,409.3 L231.5,409.5 L232.0,409.7 L232.5,409.9 L233.0,410.0 L233.5,410.2 L234.0,410.4 L234.1,410.4 M241.9,413.1 L242.0,413.1 L242.5,413.3 L243.0,413.4 L243.5,413.6 L244.0,413.8 L244.5,413.9 L245.0,414.1 L245.5,414.2 L246.0,414.4 L246.5,414.6 L247.0,414.7 L247.5,414.9 L248.0,415.0 L248.5,415.2 L249.0,415.3 L249.5,415.4 L250.0,415.6 L250.2,415.6 M258.0,417.7 L258.5,417.8 L259.0,418.0 L259.5,418.1 L260.0,418.2 L260.5,418.3 L261.0,418.4 L261.5,418.6 L262.0,418.7 L262.5,418.8 L263.0,418.9 L263.5,419.0 L264.0,419.2 L264.5,419.3 L265.0,419.4 L265.5,419.5 L266.0,419.6 L266.3,419.7 M274.1,421.5 L274.5,421.6 L275.0,421.7 L275.5,421.8 L276.0,422.0 L276.5,422.1 L277.0,422.2 L277.5,422.3 L278.0,422.5 L278.5,422.6 L279.0,422.7 L279.5,422.8 L280.0,423.0 L280.5,423.1 L281.0,423.2 L281.5,423.4 L282.0,423.5 L282.4,423.6 M290.2,425.8 L290.5,425.8 L291.0,426.0 L291.5,426.1 L292.0,426.3 L292.5,426.4 L293.0,426.5 L293.5,426.7 L294.0,426.8 L294.5,427.0 L295.0,427.1 L295.5,427.2 L296.0,427.4 L296.5,427.5 L297.0,427.7 L297.5,427.8 L298.0,427.9 L298.5,428.1 M306.3,430.1 L306.5,430.1 L307.0,430.3 L307.5,430.4 L308.0,430.5 L308.5,430.6 L309.0,430.7 L309.5,430.8 L310.0,430.9 L310.5,431.1 L311.0,431.2 L311.5,431.3 L312.0,431.4 L312.5,431.5 L313.0,431.6 L313.5,431.7 L314.0,431.8 L314.5,431.9 L314.6,431.9 M322.4,433.4 L322.5,433.4 L323.0,433.5 L323.5,433.6 L324.0,433.7 L324.5,433.8 L325.0,433.9 L325.5,434.0 L326.0,434.1 L326.5,434.2 L327.0,434.2 L327.5,434.3 L328.0,434.4 L328.5,434.5 L329.0,434.6 L329.5,434.7 L330.0,434.8 L330.5,434.9 L330.7,435.0 M334.3,435.7 L334.5,435.8 L335.0,435.9 L335.5,436.1 L336.0,436.2 L336.5,436.4 L337.0,436.5 L337.5,436.7 L338.0,436.9 L338.5,437.1 L339.0,437.3 L339.5,437.5 L340.0,437.8 L340.5,438.0 L341.0,438.3 L341.5,438.6 L342.0,438.9 L342.5,439.2 L342.6,439.2 M350.4,444.6 L350.5,444.7 L351.0,445.0 L351.5,445.4 L352.0,445.8 L352.5,446.1 L353.0,446.5 L353.5,446.9 L354.0,447.2 L354.5,447.6 L355.0,448.0 L355.5,448.3 L356.0,448.7 L356.5,449.1 L357.0,449.5 L357.5,449.9 L358.0,450.3 L358.5,450.6 L358.7,450.8 M366.5,457.6 L366.5,457.6 L367.0,458.1 L367.5,458.7 L368.0,459.2 L368.5,459.8 L369.0,460.4 L369.5,461.0 L370.0,461.6 L370.5,462.3 L371.0,463.0 L371.5,463.6 L372.0,464.4 L372.5,465.1 L373.0,465.8 L373.1,465.9 M377.8,473.7 L378.0,474.0 L378.5,474.9 L379.0,475.8 L379.5,476.7 L380.0,477.6 L380.5,478.5 L381.0,479.4 L381.5,480.3 L382.0,481.2 L382.5,482.0 M386.6,489.8 L387.0,490.6 L387.5,491.6 L388.0,492.5 L388.5,493.5 L389.0,494.5 L389.5,495.5 L390.0,496.4 L390.5,497.4 L390.8,498.1 M394.8,505.9 L395.0,506.4 L395.5,507.4 L396.0,508.4 L396.5,509.4 L397.0,510.4 L397.5,511.4 L398.0,512.5 L398.5,513.5 L398.9,514.2 M402.7,522.0 L403.0,522.6 L403.5,523.6 L404.0,524.6 L404.5,525.6 L405.0,526.6 L405.5,527.6 L406.0,528.6 L406.5,529.6 L406.9,530.3 M411.0,538.1 L411.0,538.2 L411.5,539.1 L412.0,539.9 L412.5,540.8 L413.0,541.7 L413.5,542.5 L414.0,543.3 L414.5,544.1 L415.0,544.8 L415.5,545.6 L416.0,546.3 L416.1,546.4 M423.0,553.7 L423.5,554.0 L424.0,554.4 L424.5,554.7 L425.0,554.9 L425.5,555.2 L426.0,555.4 L426.5,555.6 L427.0,555.8 L427.5,556.0 L428.0,556.2 L428.5,556.3 L429.0,556.4 L429.5,556.6 L430.0,556.7 L430.5,556.7 L431.0,556.8 L431.3,556.8 M439.1,556.0 L439.5,555.9 L440.0,555.8 L440.5,555.6 L441.0,555.5 L441.5,555.3 L442.0,555.1 L442.5,555.0 L443.0,554.8 L443.5,554.6 L444.0,554.4 L444.5,554.2 L445.0,554.0 L445.5,553.8 L446.0,553.6 L446.5,553.3 L447.0,553.1 L447.4,552.9 M455.2,549.2 L455.5,549.1 L456.0,548.8 L456.5,548.6 L457.0,548.3 L457.5,548.1 L458.0,547.8 L458.5,547.5 L459.0,547.3 L459.5,547.0 L460.0,546.7 L460.5,546.5 L461.0,546.2 L461.5,545.9 L462.0,545.7 L462.5,545.4 L463.0,545.1 L463.5,544.8 L463.5,544.8 M471.3,540.3 L471.5,540.2 L472.0,540.0 L472.5,539.7 L473.0,539.4 L473.5,539.1 L474.0,538.8 L474.5,538.5 L475.0,538.2 L475.5,537.9 L476.0,537.6 L476.5,537.3 L477.0,537.0 L477.5,536.7 L478.0,536.4 L478.5,536.1 L479.0,535.8 L479.5,535.5 L479.6,535.4 M487.4,530.6 L487.5,530.6 L488.0,530.3 L488.5,530.0 L489.0,529.7 L489.5,529.4 L490.0,529.1 L490.5,528.8 L491.0,528.5 L491.5,528.2 L492.0,527.9 L492.5,527.6 L493.0,527.3 L493.5,527.0 L494.0,526.7 L494.5,526.4 L495.0,526.1 L495.5,525.8 L495.7,525.7 M503.5,521.1 L504.0,520.9 L504.5,520.6 L505.0,520.3 L505.5,520.0 L506.0,519.8 L506.5,519.5 L507.0,519.2 L507.5,518.9 L508.0,518.7 L508.5,518.4 L509.0,518.1 L509.5,517.9 L510.0,517.6 L510.5,517.3 L511.0,517.1 L511.5,516.8 L511.8,516.6 M519.6,512.8 L520.0,512.7 L520.5,512.4 L521.0,512.2 L521.5,512.0 L522.0,511.8 L522.5,511.5 L523.0,511.3 L523.5,511.1 L524.0,510.9 L524.5,510.7 L525.0,510.5 L525.5,510.3 L526.0,510.1 L526.5,509.9 L527.0,509.7 L527.5,509.5 L527.9,509.3 M535.7,506.7 L536.0,506.6 L536.5,506.5 L537.0,506.3 L537.5,506.2 L538.0,506.1 L538.5,505.9 L539.0,505.8 L539.5,505.7 L540.0,505.6 L540.5,505.4 L541.0,505.3" fill="none" stroke="#00ff00" stroke-width="2.4"/>
<path d="M94.4,378.2 L94.9,378.2 L95.4,378.2 L95.9,378.2 L96.3,378.1 M97.9,378.1 L98.4,378.1 L98.9,378.1 L99.4,378.1 L99.8,378.1 M101.4,378.2 L101.9,378.2 L102.4,378.2 L102.9,378.3 L103.3,378.3 M104.9,378.4 L105.4,378.5 L105.9,378.6 L106.4,378.6 L106.8,378.7 M108.4,378.9 L108.9,378.9 L109.4,379.0 L109.9,379.1 L110.3,379.1 M111.9,379.4 L112.4,379.5 L112.9,379.5 L113.4,379.6 L113.8,379.7 M115.4,380.0 L115.9,380.1 L116.4,380.2 L116.9,380.3 L117.3,380.3 M118.9,380.6 L119.4,380.7 L119.9,380.8 L120.4,380.9 L120.8,381.0 M122.4,381.3 L122.9,381.4 L123.4,381.5 L123.9,381.6 L124.3,381.7 M125.9,382.0 L126.4,382.1 L126.9,382.2 L127.4,382.3 L127.8,382.4 M129.4,382.7 L129.9,382.7 L130.4,382.8 L130.9,382.9 L131.3,383.0 M132.9,383.3 L133.4,383.3 L133.9,383.4 L134.4,383.5 L134.8,383.5 M136.4,383.8 L136.9,383.9 L137.4,383.9 L137.9,384.0 L138.3,384.1 M139.9,384.3 L140.4,384.4 L140.9,384.4 L141.4,384.5 L141.8,384.6 M143.4,384.8 L143.9,384.9 L144.4,385.0 L144.9,385.0 L145.3,385.1 M146.9,385.3 L147.4,385.4 L147.9,385.5 L148.4,385.6 L148.8,385.6 M150.4,385.9 L150.9,386.0 L151.4,386.0 L151.9,386.1 L152.3,386.2 M153.9,386.5 L154.4,386.6 L154.9,386.7 L155.4,386.8 L155.8,386.9 M157.4,387.2 L157.9,387.3 L158.4,387.4 L158.9,387.5 L159.3,387.6 M160.9,388.0 L161.4,388.1 L161.9,388.2 L162.4,388.3 L162.8,388.5 M164.4,388.9 L164.9,389.0 L165.4,389.2 L165.9,389.3 L166.3,389.4 M167.9,389.9 L168.4,390.0 L168.9,390.2 L169.4,390.3 L169.8,390.5 M171.4,391.0 L171.9,391.1 L172.4,391.3 L172.9,391.5 L173.3,391.6 M174.9,392.2 L175.4,392.3 L175.9,392.5 L176.4,392.7 L176.8,392.8 M178.4,393.4 L178.9,393.6 L179.4,393.7 L179.9,393.9 L180.3,394.1 M181.9,394.7 L182.4,394.9 L182.9,395.0 L183.4,395.2 L183.8,395.4 M185.4,396.0 L185.9,396.2 L186.4,396.4 L186.9,396.6 L187.3,396.7 M188.9,397.3 L189.4,397.5 L189.9,397.7 L190.4,397.9 L190.8,398.1 M192.4,398.7 L192.9,398.9 L193.4,399.1 L193.9,399.3 L194.3,399.4 M195.9,400.0 L196.4,400.2 L196.9,400.4 L197.4,400.6 L197.8,400.8 M199.4,401.4 L199.9,401.6 L200.4,401.7 L200.9,401.9 L201.3,402.1 M202.9,402.7 L203.4,402.9 L203.9,403.0 L204.4,403.2 L204.8,403.4 M206.4,404.0 L206.9,404.1 L207.4,404.3 L207.9,404.5 L208.3,404.6 M209.9,405.2 L210.4,405.4 L210.9,405.6 L211.4,405.8 L211.8,405.9 M213.4,406.5 L213.9,406.6 L214.4,406.8 L214.9,407.0 L215.3,407.1 M216.9,407.7 L217.4,407.9 L217.9,408.0 L218.4,408.2 L218.8,408.4 M220.4,408.9 L220.9,409.1 L221.4,409.3 L221.9,409.4 L222.3,409.6 M223.9,410.1 L224.4,410.3 L224.9,410.5 L225.4,410.7 L225.8,410.8 M227.4,411.4 L227.9,411.6 L228.4,411.7 L228.9,411.9 L229.3,412.0 M230.9,412.6 L231.4,412.8 L231.9,413.0 L232.4,413.1 L232.8,413.3 M234.4,413.9 L234.9,414.0 L235.4,414.2 L235.9,414.4 L236.3,414.5 M237.9,415.1 L238.4,415.3 L238.9,415.4 L239.4,415.6 L239.8,415.8 M241.4,416.3 L241.9,416.5 L242.4,416.7 L242.9,416.8 L243.3,417.0 M244.9,417.5 L245.4,417.7 L245.9,417.8 L246.4,418.0 L246.8,418.1 M248.4,418.7 L248.9,418.8 L249.4,419.0 L249.9,419.1 L250.3,419.3 M251.9,419.7 L252.4,419.9 L252.9,420.0 L253.4,420.2 L253.8,420.3 M255.4,420.8 L255.9,420.9 L256.4,421.1 L256.9,421.2 L257.3,421.3 M258.9,421.7 L259.4,421.9 L259.9,422.0 L260.4,422.1 L260.8,422.3 M262.4,422.7 L262.9,422.8 L263.4,422.9 L263.9,423.1 L264.3,423.2 M265.9,423.6 L266.4,423.7 L266.9,423.8 L267.4,424.0 L267.8,424.1 M269.4,424.5 L269.9,424.6 L270.4,424.7 L270.9,424.8 L271.3,424.9 M272.9,425.3 L273.4,425.5 L273.9,425.6 L274.4,425.7 L274.8,425.8 M276.4,426.2 L276.9,426.3 L277.4,426.5 L277.9,426.6 L278.3,426.7 M279.9,427.1 L280.4,427.3 L280.9,427.4 L281.4,427.5 L281.8,427.6 M283.4,428.1 L283.9,428.2 L284.4,428.4 L284.9,428.5 L285.3,428.6 M286.9,429.1 L287.4,429.3 L287.9,429.4 L288.4,429.6 L288.8,429.7 M290.4,430.3 L290.9,430.4 L291.4,430.6 L291.9,430.8 L292.3,430.9 M293.9,431.5 L294.4,431.7 L294.9,431.8 L295.4,432.0 L295.8,432.2 M297.4,432.7 L297.9,432.9 L298.4,433.1 L298.9,433.3 L299.3,433.4 M300.9,433.9 L301.4,434.1 L301.9,434.3 L302.4,434.4 L302.8,434.5 M304.4,435.0 L304.9,435.2 L305.4,435.3 L305.9,435.5 L306.3,435.6 M307.9,436.0 L308.4,436.2 L308.9,436.3 L309.4,436.4 L309.8,436.5 M311.4,437.0 L311.9,437.1 L312.4,437.2 L312.9,437.4 L313.3,437.5 M314.9,437.9 L315.4,438.0 L315.9,438.1 L316.4,438.3 L316.8,438.4 M318.4,438.8 L318.9,438.9 L319.4,439.0 L319.9,439.2 L320.3,439.3 M321.9,439.7 L322.4,439.8 L322.9,440.0 L323.4,440.1 L323.8,440.2 M325.4,440.7 L325.9,440.8 L326.4,441.0 L326.9,441.1 L327.3,441.2 M328.9,441.7 L329.4,441.9 L329.9,442.0 L330.4,442.2 L330.8,442.3 M332.4,442.9 L332.9,443.0 L333.4,443.2 L333.9,443.4 L334.3,443.5 M334.3,443.5 L334.4,443.6 L334.9,443.7 L335.4,443.9 L335.9,444.1 L336.2,444.2 M337.8,444.9 L337.9,444.9 L338.4,445.1 L338.9,445.3 L339.4,445.5 L339.7,445.7 M341.3,446.4 L341.4,446.4 L341.9,446.7 L342.4,446.9 L342.9,447.1 L343.2,447.3 M344.8,448.0 L344.9,448.1 L345.4,448.3 L345.9,448.6 L346.4,448.9 L346.7,449.0 M348.3,449.9 L348.4,449.9 L348.9,450.2 L349.4,450.5 L349.9,450.8 L350.2,451.0 M351.8,451.9 L351.9,452.0 L352.4,452.3 L352.9,452.6 L353.4,453.0 L353.7,453.2 M355.3,454.3 L355.4,454.4 L355.9,454.8 L356.4,455.2 L356.9,455.6 L357.2,455.8 M358.8,457.2 L358.9,457.2 L359.4,457.7 L359.9,458.2 L360.4,458.6 L360.7,458.9 M362.3,460.5 L362.4,460.6 L362.9,461.1 L363.4,461.7 L363.9,462.2 L364.1,462.4 M365.5,464.0 L365.9,464.5 L366.4,465.1 L366.9,465.7 L367.1,465.9 M368.4,467.5 L368.4,467.5 L368.9,468.2 L369.4,468.8 L369.8,469.4 M371.0,471.0 L371.4,471.5 L371.9,472.2 L372.4,472.9 M373.5,474.5 L373.9,475.1 L374.4,475.9 L374.7,476.4 M375.8,478.0 L375.9,478.2 L376.4,479.0 L376.9,479.8 L377.0,479.9 M378.0,481.5 L378.4,482.2 L378.9,483.0 L379.1,483.4 M380.1,485.0 L380.4,485.6 L380.9,486.5 L381.1,486.9 M382.0,488.5 L382.4,489.1 L382.9,490.1 L383.1,490.4 M384.0,492.0 L384.4,492.8 L384.9,493.8 L385.0,493.9 M385.8,495.5 L385.9,495.7 L386.4,496.7 L386.8,497.4 M387.6,499.0 L387.9,499.6 L388.4,500.6 L388.5,500.9 M389.3,502.5 L389.4,502.6 L389.9,503.7 L390.3,504.4 M391.0,506.0 L391.4,506.7 L391.9,507.8 L392.0,507.9 M392.7,509.5 L392.9,509.8 L393.4,510.9 L393.7,511.4 M394.4,513.0 L394.9,514.0 L395.3,514.9 M396.1,516.5 L396.4,517.1 L396.9,518.1 L397.0,518.4 M397.8,520.0 L397.9,520.2 L398.4,521.2 L398.7,521.9 M399.5,523.5 L399.9,524.3 L400.4,525.3 L400.5,525.4 M401.3,527.0 L401.4,527.3 L401.9,528.3 L402.2,528.9 M403.0,530.5 L403.4,531.2 L403.9,532.2 L404.0,532.4 M404.8,534.0 L404.9,534.1 L405.4,535.0 L405.9,535.9 M406.7,537.5 L406.9,537.8 L407.4,538.7 L407.8,539.4 M408.7,541.0 L408.9,541.4 L409.4,542.2 L409.8,542.9 M410.8,544.5 L410.9,544.7 L411.4,545.5 L411.9,546.3 L411.9,546.4 M413.0,548.0 L413.4,548.7 L413.9,549.4 L414.2,549.9 M415.4,551.5 L415.4,551.5 L415.9,552.2 L416.4,552.8 L416.8,553.4 M418.2,555.0 L418.4,555.3 L418.9,555.8 L419.4,556.4 L419.9,556.9 M421.5,558.4 L421.9,558.8 L422.4,559.3 L422.9,559.7 L423.4,560.1 M425.0,561.2 L425.4,561.5 L425.9,561.8 L426.4,562.1 L426.9,562.4 M428.5,563.2 L428.9,563.3 L429.4,563.5 L429.9,563.7 L430.4,563.9 M432.0,564.3 L432.4,564.4 L432.9,564.5 L433.4,564.6 L433.9,564.7 M435.5,564.8 L435.9,564.8 L436.4,564.8 L436.9,564.8 L437.4,564.8 M439.0,564.7 L439.4,564.6 L439.9,564.5 L440.4,564.4 L440.9,564.3 M442.5,563.9 L442.9,563.8 L443.4,563.7 L443.9,563.5 L444.4,563.3 M446.0,562.7 L446.4,562.6 L446.9,562.3 L447.4,562.1 L447.9,561.9 M449.5,561.1 L449.9,560.9 L450.4,560.6 L450.9,560.3 L451.4,560.1 M453.0,559.1 L453.4,558.9 L453.9,558.6 L454.4,558.3 L454.9,558.0 M456.5,556.9 L456.9,556.6 L457.4,556.3 L457.9,556.0 L458.4,555.6 M460.0,554.5 L460.4,554.2 L460.9,553.9 L461.4,553.5 L461.9,553.2 M463.5,552.0 L463.9,551.7 L464.4,551.3 L464.9,551.0 L465.4,550.6 M467.0,549.5 L467.4,549.2 L467.9,548.8 L468.4,548.5 L468.9,548.1 M470.5,547.0 L470.9,546.7 L471.4,546.4 L471.9,546.0 L472.4,545.7 M474.0,544.6 L474.4,544.3 L474.9,543.9 L475.4,543.6 L475.9,543.3 M477.5,542.2 L477.9,541.9 L478.4,541.6 L478.9,541.3 L479.4,540.9 M481.0,539.9 L481.4,539.6 L481.9,539.3 L482.4,539.0 L482.9,538.7 M484.5,537.6 L484.9,537.4 L485.4,537.0 L485.9,536.7 L486.4,536.4 M488.0,535.4 L488.4,535.2 L488.9,534.8 L489.4,534.5 L489.9,534.2 M491.5,533.3 L491.9,533.0 L492.4,532.7 L492.9,532.4 L493.4,532.1 M495.0,531.2 L495.4,530.9 L495.9,530.6 L496.4,530.3 L496.9,530.0 M498.5,529.1 L498.9,528.8 L499.4,528.6 L499.9,528.3 L500.4,528.0 M502.0,527.1 L502.4,526.9 L502.9,526.6 L503.4,526.3 L503.9,526.0 M505.5,525.2 L505.9,524.9 L506.4,524.7 L506.9,524.4 L507.4,524.1 M509.0,523.3 L509.4,523.1 L509.9,522.8 L510.4,522.5 L510.9,522.3 M512.5,521.5 L512.9,521.3 L513.4,521.0 L513.9,520.8 L514.4,520.5 M516.0,519.8 L516.4,519.5 L516.9,519.3 L517.4,519.1 L517.9,518.8 M519.5,518.1 L519.9,517.9 L520.4,517.7 L520.9,517.5 L521.4,517.2 M523.0,516.5 L523.4,516.4 L523.9,516.1 L524.4,515.9 L524.9,515.7 M526.5,515.1 L526.9,514.9 L527.4,514.7 L527.9,514.5 L528.4,514.3 M530.0,513.7 L530.4,513.5 L530.9,513.3 L531.4,513.2 L531.9,513.0 M533.5,512.4 L533.9,512.3 L534.4,512.1 L534.9,511.9 L535.4,511.8 M537.0,511.2 L537.4,511.1 L537.9,510.9 L538.4,510.8 L538.9,510.6 M540.5,510.2 L540.9,510.0 L541.0,510.0" fill="none" stroke="#ff0000" stroke-width="2.0"/>
<path d="M82.0,401.8 L83.0,401.8 L84.0,401.9 L85.0,402.0 L86.0,402.0 L87.0,402.1 L88.0,402.1 L89.0,402.2 L90.0,402.2 L91.0,402.3 L92.0,402.4 L93.0,402.4 L94.0,402.5 L95.0,402.6 L96.0,402.6 L97.0,402.7 L98.0,402.8 L99.0,402.8 L100.0,402.9 L101.0,403.0 L102.0,403.1 L103.0,403.1 L104.0,403.2 L105.0,403.3 L106.0,403.3 L107.0,403.4 L108.0,403.5 L109.0,403.6 L110.0,403.6 L111.0,403.7 L112.0,403.8 L113.0,403.8 L114.0,403.9 L115.0,404.0 L116.0,404.0 L117.0,404.1 L118.0,404.2 L119.0,404.2 L120.0,404.3 L121.0,404.4 L122.0,404.4 L123.0,404.5 L124.0,404.6 L125.0,404.7 L126.0,404.8 L127.0,404.9 L128.0,405.1 L129.0,405.3 L130.0,405.5 L131.0,405.7 L132.0,406.0 L133.0,406.3 L134.0,406.5 L135.0,406.8 L136.0,407.0 L137.0,407.2 L138.0,407.3 L139.0,407.4 L140.0,407.5 L141.0,407.6 L142.0,407.6 L143.0,407.7 L144.0,407.7 L145.0,407.7 L146.0,407.8 L147.0,407.9 L148.0,407.9 L149.0,408.1 L150.0,408.2 L151.0,408.4 L152.0,408.5 L153.0,408.7 L154.0,409.0 L155.0,409.2 L156.0,409.4 L157.0,409.7 L158.0,409.9 L159.0,410.2 L160.0,410.4 L161.0,410.7 L162.0,411.0 L163.0,411.3 L164.0,411.6 L165.0,411.9 L166.0,412.2 L167.0,412.5 L168.0,412.8 L169.0,413.1 L170.0,413.4 L171.0,413.8 L172.0,414.1 L173.0,414.4 L174.0,414.7 L175.0,415.0 L176.0,415.3 L177.0,415.7 L178.0,416.0 L179.0,416.3 L180.0,416.6 L181.0,416.9 L182.0,417.2 L183.0,417.5 L184.0,417.8 L185.0,418.1 L186.0,418.4 L187.0,418.7 L188.0,419.0 L189.0,419.3 L190.0,419.6 L191.0,419.9 L192.0,420.2 L193.0,420.4 L194.0,420.7 L195.0,421.0 L196.0,421.2 L197.0,421.5 L198.0,421.7 L199.0,422.0 L200.0,422.2 L201.0,422.4 L202.0,422.6 L203.0,422.9 L204.0,423.1 L205.0,423.3 L206.0,423.5 L207.0,423.7 L208.0,423.9 L209.0,424.1 L210.0,424.3 L211.0,424.5 L212.0,424.7 L213.0,424.9 L214.0,425.1 L215.0,425.4 L216.0,425.6 L217.0,425.8 L218.0,426.1 L219.0,426.3 L220.0,426.6 L221.0,426.9 L222.0,427.1 L223.0,427.4 L224.0,427.7 L225.0,428.1 L226.0,428.4 L227.0,428.7 L228.0,429.1 L229.0,429.5 L230.0,429.9 L231.0,430.3 L232.0,430.7 L233.0,431.2 L234.0,431.6 L235.0,432.1 L236.0,432.6 L237.0,433.1 L238.0,433.5 L239.0,434.0 L240.0,434.5 L241.0,435.0 L242.0,435.5 L243.0,435.9 L244.0,436.4 L245.0,436.8 L246.0,437.2 L247.0,437.6 L248.0,438.0 L249.0,438.3 L250.0,438.7 L251.0,439.0 L252.0,439.2 L253.0,439.5 L254.0,439.7 L255.0,439.9 L256.0,440.1 L257.0,440.3 L258.0,440.4 L259.0,440.6 L260.0,440.7 L261.0,440.8 L262.0,440.9 L263.0,441.0 L264.0,441.1 L265.0,441.2 L266.0,441.3 L267.0,441.4 L268.0,441.6 L269.0,441.7 L270.0,441.8 L271.0,441.9 L272.0,442.1 L273.0,442.2 L274.0,442.4 L275.0,442.6 L276.0,442.7 L277.0,442.9 L278.0,443.1 L279.0,443.3 L280.0,443.5 L281.0,443.7 L282.0,443.9 L283.0,444.1 L284.0,444.3 L285.0,444.6 L286.0,444.8 L287.0,445.0 L288.0,445.2 L289.0,445.4 L290.0,445.6 L291.0,445.8 L292.0,446.0 L293.0,446.2 L294.0,446.4 L295.0,446.6 L296.0,446.8 L297.0,447.0 L298.0,447.2 L299.0,447.3 L300.0,447.5 L301.0,447.7 L302.0,447.8 L303.0,447.9 L304.0,448.1 L305.0,448.2 L306.0,448.3 L307.0,448.4 L308.0,448.6 L309.0,448.7 L310.0,448.8 L311.0,448.9 L312.0,449.0 L313.0,449.1 L314.0,449.2 L315.0,449.3 L316.0,449.5 L317.0,449.6 L318.0,449.7 L319.0,449.8 L320.0,449.9 L321.0,450.1 L322.0,450.2 L323.0,450.4 L324.0,450.5 L325.0,450.7 L326.0,450.9 L327.0,451.1 L328.0,451.3 L329.0,451.5 L330.0,451.7 L331.0,452.0 L332.0,452.2 L333.0,452.5 L334.0,452.8 L335.0,453.1 L336.0,453.4 L337.0,453.7 L338.0,454.1 L339.0,454.4 L340.0,454.8 L341.0,455.2 L342.0,455.6 L343.0,456.1 L344.0,456.5 L345.0,457.0 L346.0,457.5 L347.0,458.0 L348.0,458.5 L349.0,459.0 L350.0,459.5 L351.0,460.1 L352.0,460.7 L353.0,461.3 L354.0,461.9 L355.0,462.5 L356.0,463.2 L357.0,463.8 L358.0,464.5 L359.0,465.3 L360.0,466.0 L361.0,466.8 L362.0,467.6 L363.0,468.5 L364.0,469.3 L365.0,470.2 L366.0,471.1 L367.0,472.1 L368.0,473.0 L369.0,474.0 L370.0,475.1 L371.0,476.1 L372.0,477.2 L373.0,478.3 L374.0,479.5 L375.0,480.7 L376.0,481.9 L377.0,483.1 L378.0,484.4 L379.0,485.7 L380.0,487.0 L381.0,488.4 L382.0,489.8 L383.0,491.2 L384.0,492.7 L385.0,494.2 L386.0,495.7 L387.0,497.3 L388.0,498.8 L389.0,500.4 L390.0,502.1 L391.0,503.7 L392.0,505.3 L393.0,507.0 L394.0,508.6 L395.0,510.2 L396.0,511.9 L397.0,513.5 L398.0,515.1 L399.0,516.6 L400.0,518.2 L401.0,519.7 L402.0,521.2 L403.0,522.6 L404.0,524.0 L405.0,525.4 L406.0,526.7 L407.0,528.0 L408.0,529.2 L409.0,530.4 L410.0,531.5 L411.0,532.6 L412.0,533.6 L413.0,534.6 L414.0,535.6 L415.0,536.5 L416.0,537.3 L417.0,538.2 L418.0,538.9 L419.0,539.7 L420.0,540.4 L421.0,541.0 L422.0,541.6 L423.0,542.2 L424.0,542.7 L425.0,543.2 L426.0,543.6 L427.0,544.1 L428.0,544.4 L429.0,544.7 L430.0,545.0 L431.0,545.3 L432.0,545.5 L433.0,545.6 L434.0,545.7 L435.0,545.8 L436.0,545.9 L437.0,545.9 L438.0,545.9 L439.0,545.8 L440.0,545.7 L441.0,545.5 L442.0,545.4 L443.0,545.1 L444.0,544.9 L445.0,544.6 L446.0,544.3 L447.0,543.9 L448.0,543.5 L449.0,543.1 L450.0,542.6 L451.0,542.1 L452.0,541.6 L453.0,541.1 L454.0,540.5 L455.0,540.0 L456.0,539.4 L457.0,538.7 L458.0,538.1 L459.0,537.5 L460.0,536.8 L461.0,536.2 L462.0,535.6 L463.0,534.9 L464.0,534.3 L465.0,533.6 L466.0,533.0 L467.0,532.3 L468.0,531.7 L469.0,531.1 L470.0,530.5 L471.0,529.9 L472.0,529.4 L473.0,528.8 L474.0,528.3 L475.0,527.7 L476.0,527.2 L477.0,526.7 L478.0,526.2 L479.0,525.6 L480.0,525.2 L481.0,524.7 L482.0,524.2 L483.0,523.7 L484.0,523.2 L485.0,522.8 L486.0,522.3 L487.0,521.9 L488.0,521.5 L489.0,521.0 L490.0,520.6 L491.0,520.2 L492.0,519.8 L493.0,519.4 L494.0,519.0 L495.0,518.6 L496.0,518.2 L497.0,517.8 L498.0,517.4 L499.0,517.0 L500.0,516.6 L501.0,516.2 L502.0,515.9 L503.0,515.5 L504.0,515.1 L505.0,514.8 L506.0,514.4 L507.0,514.1 L508.0,513.7 L509.0,513.4 L510.0,513.0 L511.0,512.7 L512.0,512.4 L513.0,512.0 L514.0,511.7 L515.0,511.4 L516.0,511.1 L517.0,510.7 L518.0,510.4 L519.0,510.1 L520.0,509.8 L521.0,509.5 L522.0,509.2 L523.0,508.8 L524.0,508.5 L525.0,508.2 L526.0,507.9 L527.0,507.6 L528.0,507.3 L529.0,507.0 L530.0,506.7 L531.0,506.4 L532.0,506.2 L533.0,505.9 L534.0,505.6 L535.0,505.3 L536.0,505.0 L537.0,504.7 L538.0,504.4 L539.0,504.1 L540.0,503.8 L541.0,503.5" fill="none" stroke="#000" stroke-width="2.2"/>
<path d="M82.0,440.0 L82.5,440.2 L83.0,440.3 L83.5,440.5 L84.0,440.6 L84.5,440.8 L85.0,440.9 L85.5,441.0 L86.0,441.1 L86.5,441.2 L87.0,441.3 L87.5,441.4 L88.0,441.5 L88.5,441.6 L89.0,441.7 L89.5,441.7 L90.0,441.8 L90.5,441.8 L90.9,441.9 M94.5,442.1 L95.0,442.1 L95.5,442.1 L96.0,442.1 L96.5,442.1 L97.0,442.1 L97.5,442.1 M101.3,442.1 L101.5,442.1 L102.0,442.1 L102.5,442.1 L103.0,442.1 L103.5,442.1 L104.0,442.1 L104.5,442.1 L105.0,442.1 L105.5,442.1 L106.0,442.2 L106.5,442.2 L107.0,442.2 L107.5,442.2 L108.0,442.3 L108.5,442.3 L109.0,442.3 L109.5,442.4 L110.0,442.4 L110.5,442.5 L111.0,442.5 L111.3,442.6 M114.9,443.2 L115.0,443.2 L115.5,443.3 L116.0,443.4 L116.5,443.5 L117.0,443.6 L117.5,443.7 L117.9,443.8 M121.7,444.6 L122.0,444.7 L122.5,444.8 L123.0,444.9 L123.5,445.0 L124.0,445.1 L124.5,445.2 L125.0,445.3 L125.5,445.4 L126.0,445.5 L126.5,445.6 L127.0,445.6 L127.5,445.7 L128.0,445.8 L128.5,445.9 L129.0,445.9 L129.5,446.0 L130.0,446.1 L130.5,446.1 L131.0,446.2 L131.5,446.2 L131.7,446.2 M135.3,446.4 L135.5,446.5 L136.0,446.5 L136.5,446.5 L137.0,446.5 L137.5,446.5 L138.0,446.5 L138.3,446.5 M142.1,446.5 L142.5,446.5 L143.0,446.6 L143.5,446.6 L144.0,446.6 L144.5,446.6 L145.0,446.6 L145.5,446.6 L146.0,446.6 L146.5,446.6 L147.0,446.7 L147.5,446.7 L148.0,446.7 L148.5,446.7 L149.0,446.8 L149.5,446.8 L150.0,446.9 L150.5,446.9 L151.0,447.0 L151.5,447.0 L152.0,447.1 L152.1,447.1 M155.7,447.6 L156.0,447.7 L156.5,447.8 L157.0,447.9 L157.5,448.0 L158.0,448.1 L158.5,448.2 L158.7,448.2 M162.5,449.0 L163.0,449.1 L163.5,449.2 L164.0,449.3 L164.5,449.4 L165.0,449.6 L165.5,449.7 L166.0,449.8 L166.5,449.9 L167.0,450.0 L167.5,450.1 L168.0,450.3 L168.5,450.4 L169.0,450.5 L169.5,450.6 L170.0,450.7 L170.5,450.9 L171.0,451.0 L171.5,451.1 L172.0,451.2 L172.5,451.4 M176.1,452.3 L176.5,452.4 L177.0,452.5 L177.5,452.6 L178.0,452.8 L178.5,452.9 L179.0,453.0 L179.1,453.0 M182.9,454.0 L183.0,454.1 L183.5,454.2 L184.0,454.3 L184.5,454.5 L185.0,454.6 L185.5,454.7 L186.0,454.9 L186.5,455.0 L187.0,455.1 L187.5,455.2 L188.0,455.4 L188.5,455.5 L189.0,455.6 L189.5,455.8 L190.0,455.9 L190.5,456.0 L191.0,456.2 L191.5,456.3 L192.0,456.4 L192.5,456.6 L192.9,456.7 M196.5,457.6 L197.0,457.7 L197.5,457.8 L198.0,458.0 L198.5,458.1 L199.0,458.2 L199.5,458.3 M203.3,459.2 L203.5,459.3 L204.0,459.4 L204.5,459.5 L205.0,459.6 L205.5,459.8 L206.0,459.9 L206.5,460.0 L207.0,460.1 L207.5,460.2 L208.0,460.3 L208.5,460.5 L209.0,460.6 L209.5,460.7 L210.0,460.8 L210.5,460.9 L211.0,461.0 L211.5,461.2 L212.0,461.3 L212.5,461.4 L213.0,461.5 L213.3,461.6 M216.9,462.4 L217.0,462.5 L217.5,462.6 L218.0,462.7 L218.5,462.8 L219.0,463.0 L219.5,463.1 L219.9,463.2 M223.7,464.2 L224.0,464.2 L224.5,464.4 L225.0,464.5 L225.5,464.6 L226.0,464.8 L226.5,464.9 L227.0,465.1 L227.5,465.2 L228.0,465.3 L228.5,465.5 L229.0,465.6 L229.5,465.8 L230.0,465.9 L230.5,466.1 L231.0,466.2 L231.5,466.4 L232.0,466.5 L232.5,466.7 L233.0,466.8 L233.5,467.0 L233.7,467.1 M237.3,468.2 L237.5,468.3 L238.0,468.4 L238.5,468.6 L239.0,468.7 L239.5,468.9 L240.0,469.0 L240.3,469.1 M244.1,470.2 L244.5,470.3 L245.0,470.5 L245.5,470.6 L246.0,470.7 L246.5,470.9 L247.0,471.0 L247.5,471.1 L248.0,471.2 L248.5,471.3 L249.0,471.5 L249.5,471.6 L250.0,471.7 L250.5,471.8 L251.0,471.9 L251.5,472.0 L252.0,472.0 L252.5,472.1 L253.0,472.2 L253.5,472.3 L254.0,472.4 L254.1,472.4 M257.7,472.9 L258.0,472.9 L258.5,472.9 L259.0,473.0 L259.5,473.1 L260.0,473.1 L260.5,473.2 L260.7,473.2 M264.5,473.5 L265.0,473.6 L265.5,473.6 L266.0,473.7 L266.5,473.7 L267.0,473.7 L267.5,473.8 L268.0,473.8 L268.5,473.9 L269.0,473.9 L269.5,474.0 L270.0,474.0 L270.5,474.1 L271.0,474.1 L271.5,474.2 L272.0,474.2 L272.5,474.3 L273.0,474.3 L273.5,474.4 L274.0,474.5 L274.5,474.5 M278.1,475.0 L278.5,475.0 L279.0,475.1 L279.5,475.2 L280.0,475.2 L280.5,475.3 L281.0,475.4 L281.1,475.4 M284.9,475.9 L285.0,475.9 L285.5,476.0 L286.0,476.1 L286.5,476.1 L287.0,476.2 L287.5,476.3 L288.0,476.3 L288.5,476.4 L289.0,476.5 L289.5,476.5 L290.0,476.6 L290.5,476.7 L291.0,476.8 L291.5,476.8 L292.0,476.9 L292.5,477.0 L293.0,477.0 L293.5,477.1 L294.0,477.2 L294.5,477.2 L294.9,477.3 M298.5,477.7 L299.0,477.8 L299.5,477.9 L300.0,477.9 L300.5,478.0 L301.0,478.0 L301.5,478.1 M305.3,478.5 L305.5,478.5 L306.0,478.5 L306.5,478.6 L307.0,478.6 L307.5,478.7 L308.0,478.7 L308.5,478.8 L309.0,478.8 L309.5,478.9 L310.0,478.9 L310.5,479.0 L311.0,479.0 L311.5,479.0 L312.0,479.1 L312.5,479.1 L313.0,479.2 L313.5,479.2 L314.0,479.3 L314.5,479.3 L315.0,479.3 L315.3,479.4 M318.9,479.7 L319.0,479.7 L319.5,479.7 L320.0,479.8 L320.5,479.8 L321.0,479.9 L321.5,479.9 L321.9,480.0 M325.7,480.3 L326.0,480.4 L326.5,480.4 L327.0,480.5 L327.5,480.5 L328.0,480.6 L328.5,480.7 L329.0,480.7 L329.5,480.8 L330.0,480.8 L330.5,480.9 L331.0,481.0 L331.5,481.0 L332.0,481.1 L332.5,481.2 L333.0,481.2 L333.5,481.3 L334.0,481.4 L334.3,481.4 M334.3,481.4 L334.5,481.4 L335.0,481.5 L335.5,481.6 L336.0,481.7 L336.5,481.8 L337.0,481.8 L337.5,481.9 L338.0,482.0 L338.5,482.1 L339.0,482.2 L339.5,482.3 L340.0,482.4 L340.5,482.5 L341.0,482.7 L341.5,482.8 L342.0,482.9 L342.5,483.0 L343.0,483.2 L343.5,483.3 L344.0,483.5 L344.3,483.5 M347.9,484.8 L348.0,484.8 L348.5,485.0 L349.0,485.2 L349.5,485.4 L350.0,485.6 L350.5,485.8 L350.9,486.0 M354.7,487.8 L355.0,487.9 L355.5,488.2 L356.0,488.5 L356.5,488.7 L357.0,489.0 L357.5,489.3 L358.0,489.5 L358.5,489.8 L359.0,490.1 L359.5,490.4 L360.0,490.7 L360.5,491.0 L361.0,491.3 L361.5,491.7 L362.0,492.0 L362.5,492.3 L363.0,492.7 L363.5,493.0 L364.0,493.4 L364.5,493.7 L364.7,493.9 M368.3,496.7 L368.5,496.8 L369.0,497.3 L369.5,497.7 L370.0,498.1 L370.5,498.6 L371.0,499.0 L371.3,499.3 M375.1,503.0 L375.5,503.5 L376.0,504.0 L376.5,504.6 L377.0,505.1 L377.5,505.7 L378.0,506.3 L378.5,506.8 L379.0,507.4 L379.5,508.0 L380.0,508.6 L380.5,509.2 L381.0,509.8 L381.5,510.4 L382.0,511.0 L382.5,511.7 L383.0,512.3 L383.5,512.9 L383.6,513.0 M386.4,516.6 L386.5,516.7 L387.0,517.3 L387.5,518.0 L388.0,518.6 L388.5,519.3 L388.8,519.6 M391.8,523.4 L392.0,523.7 L392.5,524.3 L393.0,524.9 L393.5,525.5 L394.0,526.2 L394.5,526.8 L395.0,527.4 L395.5,528.0 L396.0,528.6 L396.5,529.1 L397.0,529.7 L397.5,530.3 L398.0,530.9 L398.5,531.4 L399.0,532.0 L399.5,532.5 L400.0,533.1 L400.4,533.4 M403.9,537.0 L404.0,537.1 L404.5,537.5 L405.0,538.0 L405.5,538.4 L406.0,538.9 L406.5,539.3 L406.9,539.6 M410.7,542.4 L411.0,542.6 L411.5,542.9 L412.0,543.2 L412.5,543.5 L413.0,543.8 L413.5,544.0 L414.0,544.2 L414.5,544.5 L415.0,544.7 L415.5,544.9 L416.0,545.1 L416.5,545.2 L417.0,545.4 L417.5,545.5 L418.0,545.6 L418.5,545.7 L419.0,545.8 L419.5,545.9 L420.0,546.0 L420.5,546.0 L420.7,546.0 M424.3,545.8 L424.5,545.8 L425.0,545.7 L425.5,545.6 L426.0,545.5 L426.5,545.4 L427.0,545.3 L427.3,545.2 M431.1,543.8 L431.5,543.6 L432.0,543.3 L432.5,543.1 L433.0,542.9 L433.5,542.6 L434.0,542.3 L434.5,542.0 L435.0,541.8 L435.5,541.5 L436.0,541.2 L436.5,540.9 L437.0,540.6 L437.5,540.3 L438.0,539.9 L438.5,539.6 L439.0,539.3 L439.5,538.9 L440.0,538.6 L440.5,538.3 L441.0,537.9 L441.1,537.8 M444.7,535.2 L445.0,534.9 L445.5,534.6 L446.0,534.2 L446.5,533.8 L447.0,533.4 L447.5,533.0 L447.7,532.8 M451.5,529.7 L451.5,529.7 L452.0,529.3 L452.5,528.9 L453.0,528.4 L453.5,528.0 L454.0,527.6 L454.5,527.2 L455.0,526.8 L455.5,526.3 L456.0,525.9 L456.5,525.5 L457.0,525.1 L457.5,524.6 L458.0,524.2 L458.5,523.8 L459.0,523.4 L459.5,522.9 L460.0,522.5 L460.5,522.1 L461.0,521.7 L461.5,521.3 M465.1,518.3 L465.5,518.0 L466.0,517.6 L466.5,517.2 L467.0,516.8 L467.5,516.4 L468.0,516.0 L468.1,515.9 M471.9,513.0 L472.0,512.9 L472.5,512.6 L473.0,512.2 L473.5,511.9 L474.0,511.5 L474.5,511.1 L475.0,510.8 L475.5,510.4 L476.0,510.1 L476.5,509.7 L477.0,509.4 L477.5,509.0 L478.0,508.7 L478.5,508.3 L479.0,508.0 L479.5,507.6 L480.0,507.3 L480.5,507.0 L481.0,506.6 L481.5,506.3 L481.9,506.0 M485.5,503.6 L485.5,503.6 L486.0,503.3 L486.5,503.0 L487.0,502.6 L487.5,502.3 L488.0,502.0 L488.5,501.7 M492.3,499.2 L492.5,499.0 L493.0,498.7 L493.5,498.4 L494.0,498.0 L494.5,497.7 L495.0,497.4 L495.5,497.0 L496.0,496.7 L496.5,496.4 L497.0,496.0 L497.5,495.7 L498.0,495.4 L498.5,495.0 L499.0,494.7 L499.5,494.4 L500.0,494.0 L500.5,493.7 L501.0,493.4 L501.5,493.0 L502.0,492.7 L502.3,492.5 M505.9,490.1 L506.0,490.1 L506.5,489.7 L507.0,489.4 L507.5,489.1 L508.0,488.8 L508.5,488.4 L508.9,488.2 M512.7,485.8 L513.0,485.6 L513.5,485.3 L514.0,484.9 L514.5,484.6 L515.0,484.3 L515.5,484.0 L516.0,483.7 L516.5,483.4 L517.0,483.1 L517.5,482.8 L518.0,482.5 L518.5,482.2 L519.0,481.9 L519.5,481.6 L520.0,481.3 L520.5,481.1 L521.0,480.8 L521.5,480.5 L522.0,480.2 L522.5,479.9 L522.7,479.8 M526.3,477.9 L526.5,477.8 L527.0,477.5 L527.5,477.3 L528.0,477.0 L528.5,476.8 L529.0,476.5 L529.3,476.4 M533.1,474.7 L533.5,474.5 L534.0,474.3 L534.5,474.1 L535.0,473.9 L535.5,473.7 L536.0,473.5 L536.5,473.3 L537.0,473.1 L537.5,472.9 L538.0,472.7 L538.5,472.5 L539.0,472.4 L539.5,472.2 L540.0,472.0 L540.5,471.9 L541.0,471.7" fill="none" stroke="#800000" stroke-width="2.3"/>
<path d="M82.0,456.0 L82.5,455.9 L83.0,455.9 L83.5,455.8 L84.0,455.7 L84.5,455.7 L85.0,455.6 L85.5,455.6 L86.0,455.5 L86.5,455.5 L87.0,455.4 L87.5,455.4 L88.0,455.4 L88.5,455.3 M92.0,455.3 L92.5,455.3 L93.0,455.3 L93.5,455.3 L94.0,455.3 L94.5,455.3 L95.0,455.3 M98.5,455.5 L99.0,455.5 L99.5,455.6 L100.0,455.6 L100.5,455.6 L101.0,455.7 L101.5,455.7 M105.0,456.1 L105.5,456.2 L106.0,456.2 L106.5,456.3 L107.0,456.4 L107.5,456.4 L108.0,456.5 L108.5,456.5 L109.0,456.6 L109.5,456.7 L110.0,456.8 L110.5,456.8 L111.0,456.9 L111.5,457.0 L112.0,457.0 L112.5,457.1 L112.7,457.1 M116.2,457.6 L116.5,457.7 L117.0,457.8 L117.5,457.8 L118.0,457.9 L118.5,458.0 L119.0,458.1 L119.2,458.1 M122.7,458.6 L123.0,458.6 L123.5,458.7 L124.0,458.7 L124.5,458.8 L125.0,458.9 L125.5,458.9 L125.7,459.0 M129.2,459.3 L129.5,459.4 L130.0,459.4 L130.5,459.5 L131.0,459.5 L131.5,459.5 L132.0,459.6 L132.5,459.6 L133.0,459.7 L133.5,459.7 L134.0,459.7 L134.5,459.8 L135.0,459.8 L135.5,459.8 L136.0,459.8 L136.5,459.9 L136.9,459.9 M140.4,460.1 L140.5,460.1 L141.0,460.1 L141.5,460.1 L142.0,460.1 L142.5,460.2 L143.0,460.2 L143.4,460.2 M146.9,460.3 L147.0,460.4 L147.5,460.4 L148.0,460.4 L148.5,460.4 L149.0,460.5 L149.5,460.5 L149.9,460.5 M153.4,460.7 L153.5,460.7 L154.0,460.8 L154.5,460.8 L155.0,460.9 L155.5,460.9 L156.0,460.9 L156.5,461.0 L157.0,461.0 L157.5,461.1 L158.0,461.1 L158.5,461.2 L159.0,461.3 L159.5,461.3 L160.0,461.4 L160.5,461.4 L161.0,461.5 L161.1,461.5 M164.6,462.1 L165.0,462.1 L165.5,462.2 L166.0,462.3 L166.5,462.4 L167.0,462.5 L167.5,462.6 L167.6,462.6 M171.1,463.3 L171.5,463.4 L172.0,463.5 L172.5,463.6 L173.0,463.8 L173.5,463.9 L174.0,464.0 L174.1,464.0 M177.6,464.8 L178.0,464.9 L178.5,465.1 L179.0,465.2 L179.5,465.3 L180.0,465.4 L180.5,465.6 L181.0,465.7 L181.5,465.8 L182.0,466.0 L182.5,466.1 L183.0,466.2 L183.5,466.3 L184.0,466.5 L184.5,466.6 L185.0,466.7 L185.3,466.8 M188.8,467.7 L189.0,467.8 L189.5,467.9 L190.0,468.0 L190.5,468.2 L191.0,468.3 L191.5,468.4 L191.8,468.5 M195.3,469.4 L195.5,469.4 L196.0,469.5 L196.5,469.7 L197.0,469.8 L197.5,469.9 L198.0,470.0 L198.3,470.1 M201.8,470.9 L202.0,470.9 L202.5,471.0 L203.0,471.1 L203.5,471.2 L204.0,471.3 L204.5,471.4 L205.0,471.6 L205.5,471.7 L206.0,471.8 L206.5,471.9 L207.0,472.0 L207.5,472.1 L208.0,472.1 L208.5,472.2 L209.0,472.3 L209.5,472.4 M213.0,473.1 L213.5,473.2 L214.0,473.3 L214.5,473.4 L215.0,473.5 L215.5,473.6 L216.0,473.7 M219.5,474.3 L220.0,474.4 L220.5,474.5 L221.0,474.6 L221.5,474.7 L222.0,474.8 L222.5,474.9 M226.0,475.6 L226.5,475.7 L227.0,475.8 L227.5,475.9 L228.0,476.0 L228.5,476.1 L229.0,476.2 L229.5,476.3 L230.0,476.5 L230.5,476.6 L231.0,476.7 L231.5,476.8 L232.0,476.9 L232.5,477.0 L233.0,477.2 L233.5,477.3 L233.7,477.3 M237.2,478.2 L237.5,478.2 L238.0,478.4 L238.5,478.5 L239.0,478.6 L239.5,478.7 L240.0,478.8 L240.2,478.9 M243.7,479.7 L244.0,479.7 L244.5,479.8 L245.0,480.0 L245.5,480.1 L246.0,480.2 L246.5,480.3 L246.7,480.3 M250.2,480.9 L250.5,481.0 L251.0,481.1 L251.5,481.1 L252.0,481.2 L252.5,481.3 L253.0,481.3 L253.5,481.4 L254.0,481.5 L254.5,481.5 L255.0,481.6 L255.5,481.7 L256.0,481.7 L256.5,481.8 L257.0,481.8 L257.5,481.9 L257.9,481.9 M261.4,482.2 L261.5,482.2 L262.0,482.3 L262.5,482.3 L263.0,482.4 L263.5,482.4 L264.0,482.4 L264.4,482.5 M267.9,482.7 L268.0,482.7 L268.5,482.8 L269.0,482.8 L269.5,482.9 L270.0,482.9 L270.5,482.9 L270.9,483.0 M274.4,483.3 L274.5,483.3 L275.0,483.3 L275.5,483.4 L276.0,483.4 L276.5,483.5 L277.0,483.5 L277.5,483.6 L278.0,483.6 L278.5,483.7 L279.0,483.7 L279.5,483.8 L280.0,483.8 L280.5,483.9 L281.0,483.9 L281.5,484.0 L282.0,484.1 L282.1,484.1 M285.6,484.5 L286.0,484.5 L286.5,484.6 L287.0,484.7 L287.5,484.7 L288.0,484.8 L288.5,484.8 L288.6,484.9 M292.1,485.3 L292.5,485.4 L293.0,485.5 L293.5,485.5 L294.0,485.6 L294.5,485.7 L295.0,485.7 L295.1,485.7 M298.6,486.1 L299.0,486.2 L299.5,486.2 L300.0,486.3 L300.5,486.3 L301.0,486.3 L301.5,486.4 L302.0,486.4 L302.5,486.4 L303.0,486.4 L303.5,486.5 L304.0,486.5 L304.5,486.5 L305.0,486.5 L305.5,486.5 L306.0,486.5 L306.3,486.5 M309.8,486.5 L310.0,486.5 L310.5,486.5 L311.0,486.5 L311.5,486.5 L312.0,486.5 L312.5,486.5 L312.8,486.5 M316.3,486.4 L316.5,486.4 L317.0,486.4 L317.5,486.4 L318.0,486.4 L318.5,486.3 L319.0,486.3 L319.3,486.3 M322.8,486.3 L323.0,486.3 L323.5,486.3 L324.0,486.3 L324.5,486.4 L325.0,486.4 L325.5,486.4 L326.0,486.4 L326.5,486.4 L327.0,486.4 L327.5,486.5 L328.0,486.5 L328.5,486.5 L329.0,486.6 L329.5,486.6 L330.0,486.7 L330.5,486.7 M334.0,487.1 L334.0,487.1 L334.3,487.2 M334.3,487.2 L334.5,487.2 L335.0,487.3 L335.5,487.4 L336.0,487.4 L336.5,487.5 L337.0,487.6 L337.5,487.7 L338.0,487.8 L338.5,487.9 L339.0,488.0 L339.5,488.1 L340.0,488.3 L340.5,488.4 L341.0,488.5 L341.5,488.6 L342.0,488.7 M345.4,489.6 L345.5,489.6 L346.0,489.8 L346.5,489.9 L347.0,490.0 L347.5,490.2 L348.0,490.3 L348.4,490.4 M351.9,491.5 L352.0,491.6 L352.5,491.7 L353.0,491.9 L353.5,492.1 L354.0,492.3 L354.5,492.5 L354.8,492.6 M358.2,494.0 L358.5,494.1 L359.0,494.4 L359.5,494.6 L360.0,494.9 L360.5,495.1 L361.0,495.4 L361.5,495.6 L362.0,495.9 L362.5,496.2 L363.0,496.4 L363.5,496.7 L364.0,497.0 L364.5,497.3 L365.0,497.6 L365.5,498.0 L365.7,498.1 M369.0,500.3 L369.0,500.4 L369.5,500.7 L370.0,501.1 L370.5,501.5 L371.0,501.9 L371.5,502.3 L371.8,502.5 M375.0,505.4 L375.0,505.4 L375.5,505.9 L376.0,506.3 L376.5,506.8 L377.0,507.3 L377.5,507.8 L377.7,508.0 M380.7,511.3 L381.0,511.6 L381.5,512.2 L382.0,512.7 L382.5,513.3 L383.0,513.9 L383.5,514.4 L384.0,515.0 L384.5,515.6 L385.0,516.2 L385.5,516.8 L386.0,517.4 L386.5,517.9 L387.0,518.5 L387.4,519.0 M390.4,522.5 L390.5,522.6 L391.0,523.2 L391.5,523.8 L392.0,524.3 L392.5,524.9 L393.0,525.5 L393.0,525.5 M396.1,528.8 L396.5,529.2 L397.0,529.7 L397.5,530.2 L398.0,530.7 L398.5,531.2 L398.8,531.5 M402.0,534.4 L402.0,534.5 L402.5,534.9 L403.0,535.3 L403.5,535.7 L404.0,536.1 L404.5,536.5 L405.0,536.9 L405.5,537.3 L406.0,537.6 L406.5,538.0 L407.0,538.3 L407.5,538.6 L408.0,539.0 L408.5,539.3 L409.0,539.6 L409.2,539.7 M412.6,541.4 L413.0,541.5 L413.5,541.7 L414.0,541.9 L414.5,542.1 L415.0,542.2 L415.5,542.3 L415.6,542.3 M419.1,542.6 L419.5,542.5 L420.0,542.4 L420.5,542.3 L421.0,542.2 L421.5,542.0 L422.0,541.8 L422.0,541.8 M425.4,540.1 L425.5,540.0 L426.0,539.7 L426.5,539.4 L427.0,539.1 L427.5,538.7 L428.0,538.4 L428.5,538.0 L429.0,537.6 L429.5,537.3 L430.0,536.9 L430.5,536.5 L431.0,536.1 L431.5,535.7 L432.0,535.3 L432.5,534.9 L432.7,534.7 M435.9,531.9 L436.0,531.8 L436.5,531.3 L437.0,530.8 L437.5,530.3 L438.0,529.9 L438.5,529.4 L438.6,529.3 M441.7,526.2 L442.0,525.8 L442.5,525.3 L443.0,524.8 L443.5,524.2 L444.0,523.7 L444.3,523.3 M447.4,519.9 L447.5,519.8 L448.0,519.2 L448.5,518.7 L449.0,518.1 L449.5,517.5 L450.0,516.9 L450.5,516.3 L451.0,515.8 L451.5,515.2 L452.0,514.6 L452.5,514.0 L453.0,513.4 L453.5,512.8 L454.0,512.2 L454.0,512.2 M457.0,508.5 L457.5,507.9 L458.0,507.3 L458.5,506.7 L459.0,506.1 L459.5,505.5 L459.6,505.4 M462.6,501.7 L463.0,501.2 L463.5,500.6 L464.0,500.0 L464.5,499.3 L465.0,498.7 L465.1,498.6 M468.1,494.9 L468.5,494.4 L469.0,493.8 L469.5,493.2 L470.0,492.6 L470.5,492.0 L471.0,491.4 L471.5,490.8 L472.0,490.2 L472.5,489.6 L473.0,489.0 L473.5,488.4 L474.0,487.8 L474.5,487.3 L474.7,487.0 M477.7,483.5 L478.0,483.2 L478.5,482.7 L479.0,482.1 L479.5,481.5 L480.0,481.0 L480.4,480.6 M483.4,477.2 L483.5,477.2 L484.0,476.6 L484.5,476.1 L485.0,475.6 L485.5,475.1 L486.0,474.5 L486.1,474.4 M489.2,471.2 L489.5,470.9 L490.0,470.4 L490.5,469.9 L491.0,469.4 L491.5,469.0 L492.0,468.5 L492.5,468.0 L493.0,467.5 L493.5,467.0 L494.0,466.5 L494.5,466.0 L495.0,465.6 L495.5,465.1 L496.0,464.6 L496.1,464.5 M499.3,461.6 L499.5,461.4 L500.0,460.9 L500.5,460.5 L501.0,460.0 L501.5,459.6 L502.0,459.1 L502.0,459.1 M505.2,456.3 L505.5,456.1 L506.0,455.7 L506.5,455.2 L507.0,454.8 L507.5,454.4 L508.0,454.0 L508.0,454.0 M511.3,451.3 L511.5,451.1 L512.0,450.7 L512.5,450.3 L513.0,449.9 L513.5,449.5 L514.0,449.2 L514.5,448.8 L515.0,448.4 L515.5,448.0 L516.0,447.6 L516.5,447.2 L517.0,446.8 L517.5,446.5 L518.0,446.1 L518.4,445.8 M521.7,443.4 L522.0,443.2 L522.5,442.8 L523.0,442.4 L523.5,442.1 L524.0,441.7 L524.5,441.4 L524.5,441.3 M527.9,439.1 L528.0,439.0 L528.5,438.6 L529.0,438.3 L529.5,438.0 L530.0,437.6 L530.5,437.3 L530.7,437.2 M534.0,435.0 L534.5,434.7 L535.0,434.4 L535.5,434.1 L536.0,433.7 L536.5,433.4 L537.0,433.1 L537.5,432.8 L538.0,432.5 L538.5,432.2 L539.0,431.9 L539.5,431.6 L540.0,431.3 L540.5,431.0 L541.0,430.7" fill="none" stroke="#ff00ff" stroke-width="2.3"/>
<path d="M82.0,390.0 L82.5,390.0 L83.0,390.1 L83.5,390.1 L84.0,390.1 L84.5,390.2 L85.0,390.2 L85.3,390.2 M88.2,390.4 L88.5,390.4 L89.0,390.4 L89.5,390.4 L90.0,390.4 L90.5,390.4 L91.0,390.5 L91.5,390.5 L92.0,390.5 L92.5,390.5 L92.8,390.5 M95.7,390.6 L96.0,390.6 L96.5,390.6 L97.0,390.6 L97.5,390.7 L98.0,390.7 L98.5,390.7 L99.0,390.7 L99.5,390.7 L100.0,390.8 L100.3,390.8 M103.1,390.9 L103.5,390.9 L104.0,391.0 L104.5,391.0 L105.0,391.1 L105.5,391.1 L106.0,391.2 L106.5,391.2 L107.0,391.3 L107.5,391.3 L107.7,391.3 M110.6,391.7 L111.0,391.8 L111.5,391.8 L112.0,391.9 L112.5,392.0 L113.0,392.1 L113.5,392.2 L114.0,392.3 L114.5,392.4 L115.0,392.5 L115.2,392.5 M118.0,393.1 L118.5,393.2 L119.0,393.3 L119.5,393.4 L120.0,393.5 L120.5,393.6 L121.0,393.7 L121.5,393.9 L122.0,394.0 L122.5,394.1 L122.6,394.1 M125.5,394.7 L126.0,394.8 L126.5,394.9 L127.0,395.0 L127.5,395.1 L128.0,395.2 L128.5,395.3 L129.0,395.4 L129.5,395.5 L130.0,395.6 L130.1,395.6 M133.0,396.0 L133.0,396.1 L133.5,396.1 L134.0,396.2 L134.5,396.3 L135.0,396.3 L135.5,396.4 L136.0,396.4 L136.5,396.5 L137.0,396.6 L137.5,396.6 L137.6,396.6 M140.4,396.9 L140.5,396.9 L141.0,397.0 L141.5,397.0 L142.0,397.1 L142.5,397.1 L143.0,397.2 L143.5,397.2 L144.0,397.3 L144.5,397.3 L145.0,397.4 L145.0,397.4 M147.9,397.6 L148.0,397.6 L148.5,397.7 L149.0,397.7 L149.5,397.8 L150.0,397.8 L150.5,397.9 L151.0,398.0 L151.5,398.0 L152.0,398.1 L152.5,398.1 M155.3,398.5 L155.5,398.5 L156.0,398.6 L156.5,398.7 L157.0,398.7 L157.5,398.8 L158.0,398.9 L158.5,399.0 L159.0,399.1 L159.5,399.1 L159.9,399.2 M162.8,399.8 L163.0,399.8 L163.5,400.0 L164.0,400.1 L164.5,400.2 L165.0,400.3 L165.5,400.4 L166.0,400.5 L166.5,400.7 L167.0,400.8 L167.4,400.9 M170.3,401.7 L170.5,401.8 L171.0,401.9 L171.5,402.1 L172.0,402.2 L172.5,402.3 L173.0,402.5 L173.5,402.7 L174.0,402.8 L174.5,403.0 L174.9,403.1 M177.7,404.0 L178.0,404.1 L178.5,404.3 L179.0,404.4 L179.5,404.6 L180.0,404.8 L180.5,404.9 L181.0,405.1 L181.5,405.3 L182.0,405.4 L182.3,405.5 M185.2,406.5 L185.5,406.7 L186.0,406.8 L186.5,407.0 L187.0,407.2 L187.5,407.4 L188.0,407.5 L188.5,407.7 L189.0,407.9 L189.5,408.0 L189.8,408.1 M192.6,409.1 L193.0,409.3 L193.5,409.4 L194.0,409.6 L194.5,409.8 L195.0,409.9 L195.5,410.1 L196.0,410.3 L196.5,410.5 L197.0,410.6 L197.2,410.7 M200.1,411.6 L200.5,411.7 L201.0,411.9 L201.5,412.1 L202.0,412.2 L202.5,412.4 L203.0,412.5 L203.5,412.7 L204.0,412.8 L204.5,413.0 L204.7,413.0 M207.6,413.9 L208.0,414.0 L208.5,414.1 L209.0,414.3 L209.5,414.4 L210.0,414.6 L210.5,414.7 L211.0,414.9 L211.5,415.0 L212.0,415.1 L212.2,415.2 M215.0,416.0 L215.5,416.2 L216.0,416.3 L216.5,416.4 L217.0,416.6 L217.5,416.7 L218.0,416.9 L218.5,417.0 L219.0,417.2 L219.5,417.3 L219.6,417.4 M222.5,418.2 L222.5,418.2 L223.0,418.4 L223.5,418.6 L224.0,418.7 L224.5,418.9 L225.0,419.0 L225.5,419.2 L226.0,419.4 L226.5,419.5 L227.0,419.7 L227.1,419.7 M229.9,420.7 L230.0,420.8 L230.5,420.9 L231.0,421.1 L231.5,421.3 L232.0,421.5 L232.5,421.7 L233.0,421.9 L233.5,422.1 L234.0,422.3 L234.5,422.4 L234.5,422.5 M237.4,423.6 L237.5,423.6 L238.0,423.8 L238.5,424.0 L239.0,424.2 L239.5,424.4 L240.0,424.6 L240.5,424.7 L241.0,424.9 L241.5,425.1 L242.0,425.3 M244.9,426.3 L245.0,426.3 L245.5,426.5 L246.0,426.6 L246.5,426.8 L247.0,426.9 L247.5,427.1 L248.0,427.2 L248.5,427.4 L249.0,427.5 L249.5,427.6 M252.3,428.3 L252.5,428.3 L253.0,428.4 L253.5,428.5 L254.0,428.6 L254.5,428.7 L255.0,428.8 L255.5,428.8 L256.0,428.9 L256.5,429.0 L256.9,429.0 M259.8,429.4 L260.0,429.4 L260.5,429.5 L261.0,429.5 L261.5,429.6 L262.0,429.7 L262.5,429.7 L263.0,429.8 L263.5,429.8 L264.0,429.9 L264.4,429.9 M267.2,430.2 L267.5,430.2 L268.0,430.3 L268.5,430.4 L269.0,430.4 L269.5,430.5 L270.0,430.5 L270.5,430.6 L271.0,430.7 L271.5,430.7 L271.8,430.8 M274.7,431.2 L275.0,431.3 L275.5,431.4 L276.0,431.5 L276.5,431.6 L277.0,431.7 L277.5,431.7 L278.0,431.8 L278.5,431.9 L279.0,432.0 L279.3,432.1 M282.2,432.7 L282.5,432.7 L283.0,432.8 L283.5,432.9 L284.0,433.0 L284.5,433.2 L285.0,433.3 L285.5,433.4 L286.0,433.5 L286.5,433.6 L286.8,433.6 M289.6,434.3 L290.0,434.3 L290.5,434.5 L291.0,434.6 L291.5,434.7 L292.0,434.8 L292.5,434.9 L293.0,435.0 L293.5,435.1 L294.0,435.2 L294.2,435.3 M297.1,435.9 L297.5,436.0 L298.0,436.1 L298.5,436.2 L299.0,436.3 L299.5,436.4 L300.0,436.5 L300.5,436.6 L301.0,436.7 L301.5,436.8 L301.7,436.8 M304.5,437.3 L305.0,437.4 L305.5,437.5 L306.0,437.6 L306.5,437.7 L307.0,437.8 L307.5,437.8 L308.0,437.9 L308.5,438.0 L309.0,438.1 L309.1,438.1 M312.0,438.6 L312.5,438.7 L313.0,438.8 L313.5,438.9 L314.0,439.0 L314.5,439.1 L315.0,439.1 L315.5,439.2 L316.0,439.3 L316.5,439.4 L316.6,439.4 M319.5,439.9 L319.5,440.0 L320.0,440.0 L320.5,440.1 L321.0,440.2 L321.5,440.3 L322.0,440.4 L322.5,440.5 L323.0,440.6 L323.5,440.7 L324.0,440.8 L324.1,440.8 M326.9,441.5 L327.0,441.5 L327.5,441.6 L328.0,441.7 L328.5,441.8 L329.0,441.9 L329.5,442.1 L330.0,442.2 L330.5,442.3 L331.0,442.4 L331.5,442.6 L331.5,442.6 M334.3,443.3 L334.5,443.4 L335.0,443.5 L335.5,443.7 L336.0,443.8 L336.5,444.0 L337.0,444.1 L337.5,444.3 L338.0,444.4 L338.5,444.6 L338.9,444.7 M341.8,445.7 L342.0,445.7 L342.5,445.9 L343.0,446.1 L343.5,446.3 L344.0,446.5 L344.5,446.7 L345.0,446.9 L345.5,447.1 L346.0,447.3 L346.4,447.4 M349.2,448.7 L349.5,448.9 L350.0,449.1 L350.5,449.4 L351.0,449.6 L351.5,449.9 L352.0,450.2 L352.5,450.5 L353.0,450.7 L353.5,451.0 L353.8,451.2 M356.7,453.0 L357.0,453.2 L357.5,453.5 L358.0,453.9 L358.5,454.2 L359.0,454.6 L359.5,454.9 L360.0,455.3 L360.5,455.7 L361.0,456.1 L361.3,456.3 M364.1,458.6 L364.5,458.9 L365.0,459.3 L365.5,459.8 L366.0,460.2 L366.5,460.7 L367.0,461.1 L367.5,461.6 L368.0,462.1 L368.5,462.6 L368.7,462.9 M371.4,465.7 L371.5,465.9 L372.0,466.4 L372.5,467.0 L373.0,467.6 L373.5,468.2 L374.0,468.9 L374.5,469.5 L375.0,470.2 L375.1,470.3 M377.2,473.2 L377.5,473.7 L378.0,474.4 L378.5,475.1 L379.0,475.9 L379.5,476.7 L380.0,477.4 L380.2,477.8 M382.0,480.6 L382.5,481.4 L383.0,482.2 L383.5,483.0 L384.0,483.8 L384.5,484.7 L384.8,485.2 M386.6,488.1 L387.0,488.8 L387.5,489.7 L388.0,490.5 L388.5,491.4 L389.0,492.2 L389.3,492.7 M391.0,495.6 L391.0,495.6 L391.5,496.5 L392.0,497.4 L392.5,498.2 L393.0,499.1 L393.5,499.9 L393.6,500.2 M395.3,503.0 L395.5,503.4 L396.0,504.3 L396.5,505.2 L397.0,506.0 L397.5,506.9 L397.9,507.6 M399.5,510.5 L400.0,511.3 L400.5,512.2 L401.0,513.1 L401.5,513.9 L402.0,514.8 L402.1,515.1 M403.8,517.9 L404.0,518.3 L404.5,519.2 L405.0,520.0 L405.5,520.9 L406.0,521.7 L406.5,522.5 M408.2,525.4 L408.5,525.9 L409.0,526.7 L409.5,527.5 L410.0,528.3 L410.5,529.1 L411.0,529.8 L411.1,530.0 M413.1,532.9 L413.5,533.5 L414.0,534.2 L414.5,534.9 L415.0,535.5 L415.5,536.2 L416.0,536.8 L416.5,537.5 M419.0,540.3 L419.0,540.3 L419.5,540.9 L420.0,541.4 L420.5,541.8 L421.0,542.3 L421.5,542.8 L422.0,543.2 L422.5,543.6 L423.0,544.0 L423.5,544.4 L423.6,544.4 M426.4,546.3 L426.5,546.4 L427.0,546.6 L427.5,546.9 L428.0,547.1 L428.5,547.4 L429.0,547.6 L429.5,547.8 L430.0,547.9 L430.5,548.1 L431.0,548.3 L431.0,548.3 M433.9,548.9 L434.0,548.9 L434.5,549.0 L435.0,549.0 L435.5,549.1 L436.0,549.1 L436.5,549.1 L437.0,549.1 L437.5,549.1 L438.0,549.1 L438.5,549.0 M441.3,548.6 L441.5,548.6 L442.0,548.5 L442.5,548.4 L443.0,548.3 L443.5,548.1 L444.0,548.0 L444.5,547.8 L445.0,547.7 L445.5,547.5 L445.9,547.3 M448.8,546.2 L449.0,546.1 L449.5,545.8 L450.0,545.6 L450.5,545.4 L451.0,545.1 L451.5,544.9 L452.0,544.6 L452.5,544.3 L453.0,544.1 L453.4,543.9 M456.3,542.2 L456.5,542.1 L457.0,541.8 L457.5,541.5 L458.0,541.2 L458.5,540.9 L459.0,540.6 L459.5,540.3 L460.0,540.0 L460.5,539.7 L460.9,539.4 M463.7,537.7 L464.0,537.5 L464.5,537.2 L465.0,536.9 L465.5,536.6 L466.0,536.3 L466.5,536.0 L467.0,535.7 L467.5,535.4 L468.0,535.1 L468.3,534.9 M471.2,533.3 L471.5,533.1 L472.0,532.8 L472.5,532.5 L473.0,532.2 L473.5,532.0 L474.0,531.7 L474.5,531.4 L475.0,531.2 L475.5,530.9 L475.8,530.8 M478.6,529.3 L479.0,529.1 L479.5,528.8 L480.0,528.6 L480.5,528.3 L481.0,528.1 L481.5,527.8 L482.0,527.6 L482.5,527.3 L483.0,527.1 L483.2,527.0 M486.1,525.6 L486.5,525.4 L487.0,525.2 L487.5,524.9 L488.0,524.7 L488.5,524.4 L489.0,524.2 L489.5,524.0 L490.0,523.7 L490.5,523.5 L490.7,523.4 M493.6,522.0 L494.0,521.8 L494.5,521.6 L495.0,521.4 L495.5,521.1 L496.0,520.9 L496.5,520.6 L497.0,520.4 L497.5,520.2 L498.0,519.9 L498.2,519.9 M501.0,518.5 L501.5,518.3 L502.0,518.0 L502.5,517.8 L503.0,517.6 L503.5,517.3 L504.0,517.1 L504.5,516.9 L505.0,516.6 L505.5,516.4 L505.6,516.4 M508.5,515.0 L508.5,515.0 L509.0,514.8 L509.5,514.6 L510.0,514.3 L510.5,514.1 L511.0,513.9 L511.5,513.7 L512.0,513.4 L512.5,513.2 L513.0,513.0 L513.1,513.0 M515.9,511.7 L516.0,511.7 L516.5,511.5 L517.0,511.3 L517.5,511.1 L518.0,510.8 L518.5,510.6 L519.0,510.4 L519.5,510.2 L520.0,510.0 L520.5,509.8 L520.5,509.8 M523.4,508.6 L523.5,508.6 L524.0,508.4 L524.5,508.2 L525.0,508.0 L525.5,507.8 L526.0,507.6 L526.5,507.4 L527.0,507.3 L527.5,507.1 L528.0,506.9 L528.0,506.9 M530.9,505.9 L531.0,505.8 L531.5,505.6 L532.0,505.5 L532.5,505.3 L533.0,505.1 L533.5,505.0 L534.0,504.8 L534.5,504.6 L535.0,504.5 L535.5,504.3 M538.3,503.5 L538.5,503.4 L539.0,503.3 L539.5,503.1 L540.0,503.0 L540.5,502.8 L541.0,502.7" fill="none" stroke="#0000ff" stroke-width="2.25"/>
<path d="M82.0,627.0 L82.0,170.5 L541,170.5 M81.0,626.0 L541,626.0" fill="none" stroke="#000" stroke-width="2" stroke-linecap="butt"/>
<path d="M94.4,170.5 v5 M94.4,626.0 v-5 M105.6,170.5 v5 M105.6,626.0 v-5 M115.5,170.5 v5 M115.5,626.0 v-5 M124.4,170.5 v10 M124.4,626.0 v-10 M182.7,170.5 v5 M182.7,626.0 v-5 M216.9,170.5 v5 M216.9,626.0 v-5 M241.1,170.5 v5 M241.1,626.0 v-5 M259.9,170.5 v5 M259.9,626.0 v-5 M275.2,170.5 v5 M275.2,626.0 v-5 M288.2,170.5 v5 M288.2,626.0 v-5 M299.4,170.5 v5 M299.4,626.0 v-5 M309.3,170.5 v5 M309.3,626.0 v-5 M318.2,170.5 v10 M318.2,626.0 v-10 M376.5,170.5 v5 M376.5,626.0 v-5 M410.7,170.5 v5 M410.7,626.0 v-5 M434.9,170.5 v5 M434.9,626.0 v-5 M453.7,170.5 v5 M453.7,626.0 v-5 M469.0,170.5 v5 M469.0,626.0 v-5 M482.0,170.5 v5 M482.0,626.0 v-5 M493.2,170.5 v5 M493.2,626.0 v-5 M503.1,170.5 v5 M503.1,626.0 v-5 M512.0,170.5 v10 M512.0,626.0 v-10 M82.0,221.1 h5 M82.0,271.7 h10 M82.0,322.3 h5 M82.0,372.9 h10 M82.0,423.5 h5 M82.0,474.1 h10 M82.0,524.7 h5 M82.0,575.3 h10" fill="none" stroke="#000" stroke-width="2"/>
<text x="71.6" y="176.6" font-size="19.7" text-anchor="end">1.4</text>
<text x="71.6" y="277.8" font-size="19.7" text-anchor="end">1.2</text>
<text x="71.6" y="379.0" font-size="19.7" text-anchor="end">1.0</text>
<text x="71.6" y="480.2" font-size="19.7" text-anchor="end">0.8</text>
<text x="71.6" y="581.4" font-size="19.7" text-anchor="end">0.6</text>
<text x="109.3" y="655.6" font-size="20.5">10<tspan font-size="12" dy="-10.6" dx="-0.4">-2</tspan></text>
<text x="303.1" y="655.6" font-size="20.5">10<tspan font-size="12" dy="-10.6" dx="-0.4">-1</tspan></text>
<text x="496.9" y="655.6" font-size="20.5">10<tspan font-size="12" dy="-10.6" dx="-0.4">0</tspan></text>
<text transform="translate(383.2,683.9) scale(0.97,1)" font-size="25" font-style="italic">T</text>
<text x="396.6" y="693.8" font-size="14.6">9</text>
<g transform="translate(25.2,521.2) rotate(-90)">
<text transform="translate(0.20,0) scale(1.06,1.0)" font-size="25" font-style="italic">N</text>
<text x="18.00" y="10" font-size="14.5">A</text>
<text transform="translate(28.20,-0.5) scale(1.1,1.08)" font-size="24">(</text>
<text transform="translate(36.50,0) scale(1.2,1.0)" font-size="22">σ</text>
<text x="56.00" y="0" font-size="25">v</text>
<text transform="translate(68.40,-0.5) scale(1.1,1.08)" font-size="24">)</text>
<text transform="translate(83.00,0) scale(1.06,1.0)" font-size="25" font-style="italic">N</text>
<text x="100.80" y="10" font-size="14.5">A</text>
<text transform="translate(111.00,-0.5) scale(1.1,1.08)" font-size="24">(</text>
<text transform="translate(119.30,0) scale(1.2,1.0)" font-size="22">σ</text>
<text x="138.80" y="0" font-size="25">v</text>
<text transform="translate(151.20,-0.5) scale(1.1,1.08)" font-size="24">)</text>
<text transform="translate(76.70,0) scale(1.1,1.0)" font-size="24.5">/</text>
<text x="160.50" y="10" font-size="14.5">NACRE</text>
</g>
<path d="M375.1,198.8 L426.8,198.8" fill="none" stroke="#808000" stroke-width="2.2" stroke-dasharray="2.4 7.2"/>
<path d="M375.1,226.7 L426.8,226.7" fill="none" stroke="#00ff00" stroke-width="2.4" stroke-dasharray="8.3 7.8"/>
<path d="M375.1,254.2 L426.8,254.2" fill="none" stroke="#ff0000" stroke-width="2.0" stroke-dasharray="1.9 1.6"/>
<path d="M375.1,281.7 L426.8,281.7" fill="none" stroke="#000" stroke-width="2.2"/>
<path d="M375.1,316.8 L426.8,316.8" fill="none" stroke="#800000" stroke-width="2.3" stroke-dasharray="10 3.6 3 3.8"/>
<path d="M375.1,352.0 L426.8,352.0" fill="none" stroke="#ff00ff" stroke-width="2.3" stroke-dasharray="7.7 3.5 3 3.5 3 3.5"/>
<path d="M375.1,387.0 L426.8,387.0" fill="none" stroke="#0000ff" stroke-width="2.25" stroke-dasharray="4.6 2.86"/>
<text x="432.0" y="206.1" font-size="22">NACRE II (2013)</text>
<text x="432.0" y="233.9" font-size="22">Kettner <tspan font-style="italic">et al.</tspan> (2006)</text>
<text x="432.0" y="261.7" font-size="22">LUNA (2022)</text>
<text x="432.0" y="289.1" font-size="22">V<tspan font-size="13.3" dy="9.0" dx="-0.2">M1</tspan></text>
<text x="432.0" y="324.1" font-size="22">V<tspan font-size="13.3" dy="9.0" dx="-0.2">M2</tspan></text>
<text x="432.0" y="359.1" font-size="22">V<tspan font-size="13.3" dy="9.0" dx="-0.2">M3</tspan></text>
<text x="432.0" y="394.1" font-size="22">V<tspan font-size="13.3" dy="9.0" dx="-0.2">M4</tspan></text>
</svg></body></html>
